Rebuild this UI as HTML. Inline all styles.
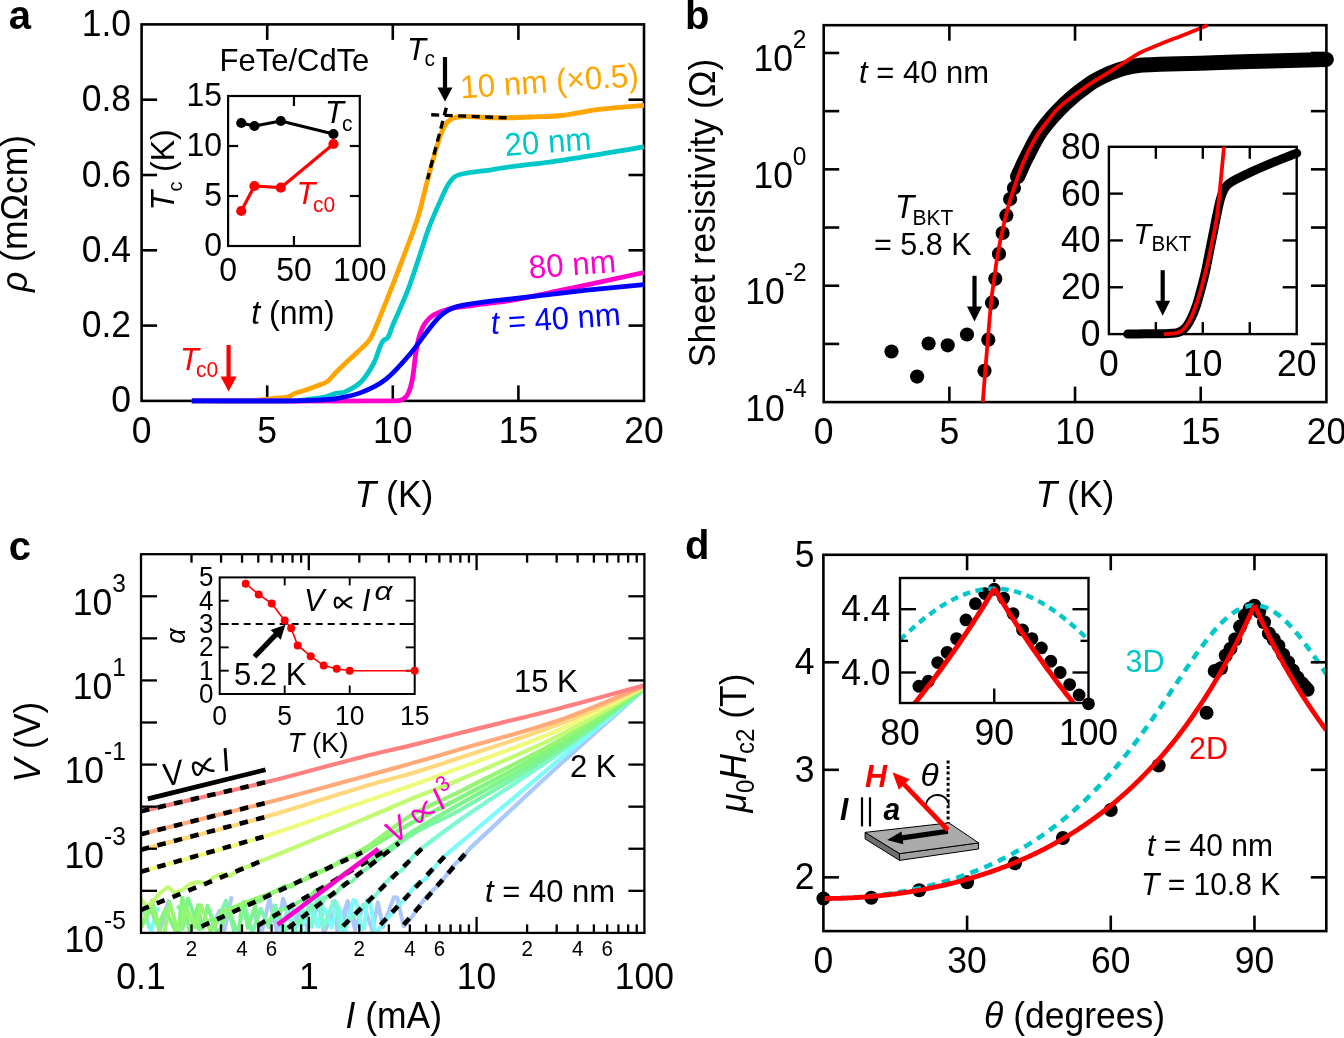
<!DOCTYPE html>
<html><head><meta charset="utf-8"><style>
html,body{margin:0;padding:0;background:#fff;width:1344px;height:1038px;overflow:hidden}
svg{display:block;font-family:"Liberation Sans",sans-serif}
</style></head><body>
<div style="will-change:transform;width:1344px;height:1038px">
<svg width="1344" height="1038" viewBox="0 0 1344 1038">
<rect width="1344" height="1038" fill="#fff"/>
<text x="0" y="0" font-size="40" fill="#000" style="font-weight:bold;"  transform="translate(8.7,29) scale(1.0,1.0377)">a</text>
<rect x="141.6" y="24.4" width="502.4" height="376.5" fill="none" stroke="#000" stroke-width="2.6"/>
<line x1="267.2" y1="400.9" x2="267.2" y2="385.4" stroke="#000" stroke-width="2.6" />
<line x1="267.2" y1="24.4" x2="267.2" y2="39.9" stroke="#000" stroke-width="2.6" />
<line x1="392.8" y1="400.9" x2="392.8" y2="385.4" stroke="#000" stroke-width="2.6" />
<line x1="392.8" y1="24.4" x2="392.8" y2="39.9" stroke="#000" stroke-width="2.6" />
<line x1="518.4" y1="400.9" x2="518.4" y2="385.4" stroke="#000" stroke-width="2.6" />
<line x1="518.4" y1="24.4" x2="518.4" y2="39.9" stroke="#000" stroke-width="2.6" />
<line x1="141.6" y1="325.6" x2="157.1" y2="325.6" stroke="#000" stroke-width="2.6" />
<line x1="644" y1="325.6" x2="628.5" y2="325.6" stroke="#000" stroke-width="2.6" />
<line x1="141.6" y1="250.3" x2="157.1" y2="250.3" stroke="#000" stroke-width="2.6" />
<line x1="644" y1="250.3" x2="628.5" y2="250.3" stroke="#000" stroke-width="2.6" />
<line x1="141.6" y1="175" x2="157.1" y2="175" stroke="#000" stroke-width="2.6" />
<line x1="644" y1="175" x2="628.5" y2="175" stroke="#000" stroke-width="2.6" />
<line x1="141.6" y1="99.7" x2="157.1" y2="99.7" stroke="#000" stroke-width="2.6" />
<line x1="644" y1="99.7" x2="628.5" y2="99.7" stroke="#000" stroke-width="2.6" />
<path d="M191.84,400.9 C208.59,400.9 225.33,401.09 242.08,400.9 C247.11,400.84 252.14,400.52 257.15,400.15 C262.19,399.77 267.2,399.19 272.22,398.64 C277.59,398.06 283.05,397.98 288.3,396.76 C290.69,396.2 292.55,394.28 294.83,393.37 C297.6,392.26 300.55,391.69 303.37,390.73 C308.34,389.05 313.31,387.37 318.19,385.46 C321.35,384.23 324.75,383.32 327.49,381.32 C330.72,378.97 332.94,375.48 335.78,372.66 C340.4,368.07 345.11,363.58 349.84,359.11 C354.82,354.41 360.11,350.04 364.92,345.18 C367.07,343 369.28,340.74 370.69,338.02 C374.68,330.38 377.69,322.27 380.99,314.3 C384.98,304.7 388.77,295.01 392.55,285.31 C396.89,274.17 401.19,263.01 405.36,251.81 C409.65,240.3 414.28,228.9 417.92,217.17 C421.57,205.4 424.02,193.3 427.21,181.4 C430.22,170.21 433.15,158.99 436.51,147.89 C438.43,141.53 440.37,135.15 443.04,129.07 C444.25,126.3 445.85,123.59 448.06,121.54 C450.16,119.59 452.82,118.07 455.6,117.4 C459.68,116.4 463.97,116.6 468.16,116.64 C476.54,116.73 484.9,117.54 493.28,117.77 C498.47,117.92 503.66,117.88 508.85,117.77 C516.23,117.62 523.59,117.33 530.96,117.02 C541.18,116.58 551.44,116.64 561.61,115.51 C574.08,114.13 586.32,111.03 598.78,109.49 C613.81,107.64 628.93,106.73 644,105.35" fill="none" stroke="#FFA500" stroke-width="4.8" stroke-linejoin="round" />
<path d="M191.84,400.9 C225.33,400.9 258.83,401.34 292.32,400.9 C297.37,400.83 302.38,400.02 307.39,399.39 C313.52,398.63 319.69,398.04 325.73,396.76 C329.19,396.02 332.35,394.24 335.78,393.37 C338.82,392.6 342.22,393.18 345.07,391.86 C350.83,389.21 356.66,386.18 361.15,381.7 C366.41,376.44 370.18,369.8 373.71,363.25 C376.58,357.92 377.88,351.88 380.24,346.31 C381.07,344.34 381.85,342.27 383.25,340.66 C384.44,339.29 386.82,339.19 387.78,337.65 C390.04,333.97 390.86,329.58 392.55,325.6 C397.14,314.77 402.32,304.18 406.62,293.22 C410.79,282.58 414.23,271.66 417.92,260.84 C421.85,249.32 425.19,237.6 429.48,226.2 C432.98,216.87 437.2,207.82 441.28,198.72 C443.4,194.01 445.34,189.17 448.06,184.79 C449.98,181.71 452.04,178.45 455.1,176.51 C458.42,174.39 462.55,173.91 466.4,173.12 C471.12,172.15 475.95,171.91 480.72,171.23 C490.94,169.78 501.13,168.1 511.37,166.72 C528.1,164.46 544.91,162.83 561.61,160.32 C589.13,156.18 616.54,151.28 644,146.76" fill="none" stroke="#00C8C8" stroke-width="4.8" stroke-linejoin="round" />
<path d="M191.84,400.9 C259.66,400.9 327.49,401.38 395.31,400.9 C397.87,400.88 400.59,400.61 402.85,399.39 C404.98,398.24 406.8,396.3 407.87,394.12 C409.97,389.88 411.24,385.22 412.14,380.57 C413.93,371.37 414.38,361.95 415.91,352.71 C416.89,346.76 417.86,340.76 419.68,335.01 C421.06,330.66 422.8,326.3 425.46,322.59 C427.75,319.38 430.84,316.66 434.25,314.68 C438.75,312.07 443.75,310.24 448.82,309.03 C457.06,307.08 465.55,306.43 473.94,305.27 C486.4,303.54 498.97,302.5 511.37,300.37 C528.21,297.48 544.89,293.72 561.61,290.21 C589.1,284.43 616.54,278.41 644,272.51" fill="none" stroke="#FF00CC" stroke-width="4.8" stroke-linejoin="round" />
<path d="M191.84,400.9 C225.33,400.9 258.83,401.1 292.32,400.9 C300.7,400.85 309.07,400.58 317.44,400.15 C323.56,399.83 329.73,399.69 335.78,398.64 C344.26,397.17 352.87,395.74 360.9,392.62 C369.76,389.16 378.57,384.98 386.02,379.06 C395.52,371.51 403.18,361.87 411.14,352.71 C416.6,346.41 421,339.26 426.21,332.75 C431.05,326.71 435.56,320.28 441.28,315.06 C444.89,311.77 449.34,309.42 453.84,307.53 C457.81,305.86 462.14,305.16 466.4,304.52 C481.34,302.27 496.37,300.65 511.37,298.87 C536.47,295.88 561.59,292.92 586.73,290.21 C605.8,288.15 624.91,286.44 644,284.56" fill="none" stroke="#0000FF" stroke-width="4.8" stroke-linejoin="round" />
<line x1="431.2" y1="114.8" x2="507.7" y2="117.8" stroke="#000" stroke-width="3.4" stroke-dasharray="8,5.5"/>
<line x1="446.3" y1="107.8" x2="427.5" y2="179.2" stroke="#000" stroke-width="3.4" stroke-dasharray="8,5.5"/>
<text x="0" y="0" font-size="35.5" fill="#000" text-anchor="middle" style=""  transform="translate(141.6,443.4) scale(1.0,1.0377)">0</text>
<text x="0" y="0" font-size="35.5" fill="#000" text-anchor="middle" style=""  transform="translate(267.2,443.4) scale(1.0,1.0377)">5</text>
<text x="0" y="0" font-size="35.5" fill="#000" text-anchor="middle" style=""  transform="translate(392.8,443.4) scale(1.0,1.0377)">10</text>
<text x="0" y="0" font-size="35.5" fill="#000" text-anchor="middle" style=""  transform="translate(518.4,443.4) scale(1.0,1.0377)">15</text>
<text x="0" y="0" font-size="35.5" fill="#000" text-anchor="middle" style=""  transform="translate(644,443.4) scale(1.0,1.0377)">20</text>
<text x="0" y="0" font-size="35.5" fill="#000" text-anchor="end" style=""  transform="translate(131,412.4) scale(1.0,1.0377)">0</text>
<text x="0" y="0" font-size="35.5" fill="#000" text-anchor="end" style=""  transform="translate(131,337.1) scale(1.0,1.0377)">0.2</text>
<text x="0" y="0" font-size="35.5" fill="#000" text-anchor="end" style=""  transform="translate(131,261.8) scale(1.0,1.0377)">0.4</text>
<text x="0" y="0" font-size="35.5" fill="#000" text-anchor="end" style=""  transform="translate(131,186.5) scale(1.0,1.0377)">0.6</text>
<text x="0" y="0" font-size="35.5" fill="#000" text-anchor="end" style=""  transform="translate(131,111.2) scale(1.0,1.0377)">0.8</text>
<text x="0" y="0" font-size="35.5" fill="#000" text-anchor="end" style=""  transform="translate(131,35.9) scale(1.0,1.0377)">1.0</text>
<text x="0" y="0" font-size="35.5" fill="#000" text-anchor="middle" style=""  transform="translate(394,506.8) scale(1.0,1.0377)"><tspan style="font-style:italic">T</tspan> (K)</text>
<text x="0" y="0" font-size="35.5" fill="#000" text-anchor="middle" style="" transform="translate(26.5,213.5) rotate(-90) scale(1.0,1.0377)"><tspan style="font-style:italic">ρ</tspan> (mΩcm)</text>
<text x="0" y="0" font-size="31.4" fill="#FFA500" style="" transform="translate(461,98.5) rotate(-4) scale(1.0,1.0377)">10 nm (×0.5)</text>
<text x="0" y="0" font-size="31.2" fill="#00C8C8" style="" transform="translate(505.5,156) rotate(-4.2) scale(1.0,1.0377)">20 nm</text>
<text x="0" y="0" font-size="31.4" fill="#FF00CC" style="" transform="translate(529.5,278.5) rotate(-4.2) scale(1.0,1.0377)">80 nm</text>
<text x="0" y="0" font-size="31" fill="#0000FF" style="" transform="translate(491.5,334) rotate(-4) scale(1.0,1.0377)"><tspan style="font-style:italic">t</tspan> = 40 nm</text>
<line x1="445" y1="57" x2="445" y2="89.5" stroke="#000" stroke-width="4.2" />
<polygon points="437.5,87.5 452.5,87.5 445,101.5" fill="#000"/>
<text x="0" y="0" font-size="31" fill="#000" style="font-style:italic;"  transform="translate(407,60) scale(1.0,1.0377)">T</text>
<text x="0" y="0" font-size="21" fill="#000" style=""  transform="translate(424.5,66) scale(1.0,1.0377)">c</text>
<line x1="228.6" y1="345" x2="228.6" y2="378.6" stroke="#F00" stroke-width="4.2" />
<polygon points="220.6,376.6 236.6,376.6 228.6,391.6" fill="#F00"/>
<text x="0" y="0" font-size="31" fill="#F00" style="font-style:italic;"  transform="translate(180,369.8) scale(1.0,1.0377)">T</text>
<text x="0" y="0" font-size="21" fill="#F00" style=""  transform="translate(196,377.3) scale(1.0,1.0377)">c0</text>
<text x="0" y="0" font-size="31" fill="#000" style=""  transform="translate(219.5,71) scale(1.0,1.0377)">FeTe/CdTe</text>
<rect x="228.1" y="96" width="131.7" height="150" fill="none" stroke="#000" stroke-width="2.2"/>
<line x1="293.95" y1="246" x2="293.95" y2="236" stroke="#000" stroke-width="2.2" />
<line x1="293.95" y1="96" x2="293.95" y2="106" stroke="#000" stroke-width="2.2" />
<line x1="228.1" y1="196" x2="238.1" y2="196" stroke="#000" stroke-width="2.2" />
<line x1="359.8" y1="196" x2="349.8" y2="196" stroke="#000" stroke-width="2.2" />
<line x1="228.1" y1="146" x2="238.1" y2="146" stroke="#000" stroke-width="2.2" />
<line x1="359.8" y1="146" x2="349.8" y2="146" stroke="#000" stroke-width="2.2" />
<polyline points="241.27,123 254.44,126 280.78,121 333.46,134" fill="none" stroke="#000" stroke-width="3.0" stroke-linejoin="round" />
<polyline points="241.27,211 254.44,186 280.78,187.7 333.46,144" fill="none" stroke="#F00" stroke-width="3.2" stroke-linejoin="round" />
<circle cx="241.27" cy="123" r="5.1" fill="#000"/>
<circle cx="254.44" cy="126" r="5.1" fill="#000"/>
<circle cx="280.78" cy="121" r="5.1" fill="#000"/>
<circle cx="333.46" cy="134" r="5.1" fill="#000"/>
<circle cx="241.27" cy="211" r="5.1" fill="#F00"/>
<circle cx="254.44" cy="186" r="5.1" fill="#F00"/>
<circle cx="280.78" cy="187.7" r="5.1" fill="#F00"/>
<circle cx="333.46" cy="144" r="5.1" fill="#F00"/>
<text x="0" y="0" font-size="32" fill="#000" text-anchor="end" style=""  transform="translate(222,256) scale(1.0,1.0377)">0</text>
<text x="0" y="0" font-size="32" fill="#000" text-anchor="end" style=""  transform="translate(222,206) scale(1.0,1.0377)">5</text>
<text x="0" y="0" font-size="32" fill="#000" text-anchor="end" style=""  transform="translate(222,156) scale(1.0,1.0377)">10</text>
<text x="0" y="0" font-size="32" fill="#000" text-anchor="end" style=""  transform="translate(222,106) scale(1.0,1.0377)">15</text>
<text x="0" y="0" font-size="32" fill="#000" text-anchor="middle" style=""  transform="translate(228.1,280.5) scale(1.0,1.0377)">0</text>
<text x="0" y="0" font-size="32" fill="#000" text-anchor="middle" style=""  transform="translate(293.95,280.5) scale(1.0,1.0377)">50</text>
<text x="0" y="0" font-size="32" fill="#000" text-anchor="middle" style=""  transform="translate(359.8,280.5) scale(1.0,1.0377)">100</text>
<text x="0" y="0" font-size="32" fill="#000" text-anchor="middle" style=""  transform="translate(293,323.5) scale(1.0,1.0377)"><tspan style="font-style:italic">t</tspan> (nm)</text>
<text x="0" y="0" font-size="32" fill="#000" style="" transform="translate(174.4,210.6) rotate(-90) scale(1.0,1.0377)"><tspan style="font-style:italic">T</tspan></text>
<text x="0" y="0" font-size="20" fill="#000" style="" transform="translate(181.5,191.5) rotate(-90) scale(1.0,1.0377)">c</text>
<text x="0" y="0" font-size="32" fill="#000" style="" transform="translate(174.4,172) rotate(-90) scale(1.0,1.0377)">(K)</text>
<text x="0" y="0" font-size="31" fill="#000" style="font-style:italic;"  transform="translate(325,123.1) scale(1.0,1.0377)">T</text>
<text x="0" y="0" font-size="21" fill="#000" style=""  transform="translate(342,130.5) scale(1.0,1.0377)">c</text>
<text x="0" y="0" font-size="31" fill="#F00" style="font-style:italic;"  transform="translate(296.5,204) scale(1.0,1.0377)">T</text>
<text x="0" y="0" font-size="21" fill="#F00" style=""  transform="translate(313,212) scale(1.0,1.0377)">c0</text>
<text x="0" y="0" font-size="40" fill="#000" style="font-weight:bold;"  transform="translate(685,28.8) scale(1.0,1.0377)">b</text>
<rect x="823.7" y="25.2" width="502.7" height="376.9" fill="none" stroke="#000" stroke-width="2.6"/>
<path d="M1017.6,176.6 C1020.5,170.37 1023.15,164.01 1026.3,157.9 C1031.02,148.77 1035.23,139.26 1041.2,130.9 C1048.13,121.19 1056.23,112.29 1064.8,104 C1072.55,96.5 1081.09,89.77 1090,83.7 C1096.22,79.46 1103.13,76.28 1110,73.2 C1114.83,71.03 1119.89,69.36 1125,68 C1129.91,66.69 1134.94,65.73 1140,65.2 C1146.64,64.5 1153.33,64.52 1160,64.3 C1173.33,63.86 1186.67,63.61 1200,63.2 C1216.67,62.68 1233.33,62 1250,61.5 C1275.46,60.73 1300.93,60.1 1326.4,59.4" fill="none" stroke="#000" stroke-width="15" stroke-linejoin="round" stroke-linecap="round"/>
<circle cx="1019.38" cy="172.63" r="7.1" fill="#000"/>
<circle cx="1021.48" cy="167.92" r="7.1" fill="#000"/>
<circle cx="1023.49" cy="163.6" r="7.1" fill="#000"/>
<circle cx="1025.71" cy="159.04" r="7.1" fill="#000"/>
<circle cx="1028.12" cy="154.3" r="7.1" fill="#000"/>
<circle cx="1030.04" cy="150.41" r="7.1" fill="#000"/>
<circle cx="1032.1" cy="146.31" r="7.1" fill="#000"/>
<circle cx="1034.32" cy="142.09" r="7.1" fill="#000"/>
<circle cx="1036.72" cy="137.84" r="7.1" fill="#000"/>
<circle cx="1039.33" cy="133.63" r="7.1" fill="#000"/>
<circle cx="1042.18" cy="129.54" r="7.1" fill="#000"/>
<circle cx="1045.34" cy="125.41" r="7.1" fill="#000"/>
<circle cx="1048.75" cy="121.21" r="7.1" fill="#000"/>
<circle cx="1052.36" cy="117.03" r="7.1" fill="#000"/>
<circle cx="1056.08" cy="112.92" r="7.1" fill="#000"/>
<circle cx="1059.84" cy="108.96" r="7.1" fill="#000"/>
<circle cx="1063.57" cy="105.2" r="7.1" fill="#000"/>
<circle cx="1067.28" cy="101.66" r="7.1" fill="#000"/>
<circle cx="1071.11" cy="98.23" r="7.1" fill="#000"/>
<circle cx="1075.01" cy="94.93" r="7.1" fill="#000"/>
<circle cx="1078.92" cy="91.8" r="7.1" fill="#000"/>
<circle cx="891.5" cy="351.5" r="7.1" fill="#000"/>
<circle cx="917.1" cy="376.6" r="7.1" fill="#000"/>
<circle cx="928.6" cy="343.5" r="7.1" fill="#000"/>
<circle cx="947.7" cy="345.3" r="7.1" fill="#000"/>
<circle cx="967" cy="334.5" r="7.1" fill="#000"/>
<circle cx="984.5" cy="370.8" r="7.1" fill="#000"/>
<circle cx="988.3" cy="339.7" r="7.1" fill="#000"/>
<circle cx="992" cy="302.7" r="7.1" fill="#000"/>
<circle cx="995.3" cy="278.8" r="7.1" fill="#000"/>
<circle cx="999" cy="253.8" r="7.1" fill="#000"/>
<circle cx="1002.6" cy="233" r="7.1" fill="#000"/>
<circle cx="1006.4" cy="215.4" r="7.1" fill="#000"/>
<circle cx="1010.1" cy="199.1" r="7.1" fill="#000"/>
<circle cx="1013.9" cy="187.9" r="7.1" fill="#000"/>
<circle cx="1017.6" cy="176.6" r="7.1" fill="#000"/>
<path d="M982.8,402.1 C983.7,390.73 984.58,379.37 985.5,368 C986.25,358.77 987.01,349.53 987.8,340.3 C988.94,326.93 989.93,313.55 991.3,300.2 C991.99,293.44 993.06,286.73 994,280 C995.16,271.66 996.16,263.3 997.6,255 C999.17,245.96 1000.95,236.95 1003,228 C1005.12,218.74 1007.31,209.48 1010.1,200.4 C1013.88,188.13 1017.88,175.9 1022.7,164 C1026.26,155.23 1030.44,146.68 1035.2,138.5 C1038.8,132.3 1043.28,126.65 1047.7,121 C1051.66,115.94 1055.52,110.7 1060.3,106.4 C1068.11,99.38 1076.69,93.22 1085.3,87.2 C1093.4,81.54 1102.04,76.68 1110.4,71.4 C1114.81,68.61 1119.19,65.79 1123.6,63 C1129.06,59.55 1134.26,55.66 1140,52.7 C1146.44,49.38 1153.29,46.93 1160,44.2 C1168.29,40.83 1176.68,37.71 1185,34.4 C1192.58,31.38 1200.13,28.27 1207.7,25.2" fill="none" stroke="#F00" stroke-width="3.8" stroke-linejoin="round" />
<line x1="949.38" y1="402.1" x2="949.38" y2="386.6" stroke="#000" stroke-width="2.6" />
<line x1="949.38" y1="25.2" x2="949.38" y2="40.7" stroke="#000" stroke-width="2.6" />
<line x1="1075.05" y1="402.1" x2="1075.05" y2="386.6" stroke="#000" stroke-width="2.6" />
<line x1="1075.05" y1="25.2" x2="1075.05" y2="40.7" stroke="#000" stroke-width="2.6" />
<line x1="1200.73" y1="402.1" x2="1200.73" y2="386.6" stroke="#000" stroke-width="2.6" />
<line x1="1200.73" y1="25.2" x2="1200.73" y2="40.7" stroke="#000" stroke-width="2.6" />
<line x1="823.7" y1="343.91" x2="839.2" y2="343.91" stroke="#000" stroke-width="2.6" />
<line x1="1326.4" y1="343.91" x2="1310.9" y2="343.91" stroke="#000" stroke-width="2.6" />
<line x1="823.7" y1="285.72" x2="839.2" y2="285.72" stroke="#000" stroke-width="2.6" />
<line x1="1326.4" y1="285.72" x2="1310.9" y2="285.72" stroke="#000" stroke-width="2.6" />
<line x1="823.7" y1="227.53" x2="839.2" y2="227.53" stroke="#000" stroke-width="2.6" />
<line x1="1326.4" y1="227.53" x2="1310.9" y2="227.53" stroke="#000" stroke-width="2.6" />
<line x1="823.7" y1="169.34" x2="839.2" y2="169.34" stroke="#000" stroke-width="2.6" />
<line x1="1326.4" y1="169.34" x2="1310.9" y2="169.34" stroke="#000" stroke-width="2.6" />
<line x1="823.7" y1="111.15" x2="839.2" y2="111.15" stroke="#000" stroke-width="2.6" />
<line x1="1326.4" y1="111.15" x2="1310.9" y2="111.15" stroke="#000" stroke-width="2.6" />
<line x1="823.7" y1="52.96" x2="839.2" y2="52.96" stroke="#000" stroke-width="2.6" />
<line x1="1326.4" y1="52.96" x2="1310.9" y2="52.96" stroke="#000" stroke-width="2.6" />
<text x="0" y="0" font-size="35.5" fill="#000" text-anchor="middle" style=""  transform="translate(823.7,443.9) scale(1.0,1.0377)">0</text>
<text x="0" y="0" font-size="35.5" fill="#000" text-anchor="middle" style=""  transform="translate(949.38,443.9) scale(1.0,1.0377)">5</text>
<text x="0" y="0" font-size="35.5" fill="#000" text-anchor="middle" style=""  transform="translate(1075.05,443.9) scale(1.0,1.0377)">10</text>
<text x="0" y="0" font-size="35.5" fill="#000" text-anchor="middle" style=""  transform="translate(1200.73,443.9) scale(1.0,1.0377)">15</text>
<text x="0" y="0" font-size="35.5" fill="#000" text-anchor="middle" style=""  transform="translate(1326.4,443.9) scale(1.0,1.0377)">20</text>
<text x="0" y="0" font-size="35.5" fill="#000" text-anchor="end" style=""  transform="translate(806.5,420.5) scale(1.0,1.0377)">10<tspan font-size="24.5" dy="-22.3">-4</tspan></text>
<text x="0" y="0" font-size="35.5" fill="#000" text-anchor="end" style=""  transform="translate(806.5,304.12) scale(1.0,1.0377)">10<tspan font-size="24.5" dy="-22.3">-2</tspan></text>
<text x="0" y="0" font-size="35.5" fill="#000" text-anchor="end" style=""  transform="translate(806.5,187.74) scale(1.0,1.0377)">10<tspan font-size="24.5" dy="-22.3">0</tspan></text>
<text x="0" y="0" font-size="35.5" fill="#000" text-anchor="end" style=""  transform="translate(806.5,71.36) scale(1.0,1.0377)">10<tspan font-size="24.5" dy="-22.3">2</tspan></text>
<text x="0" y="0" font-size="35.5" fill="#000" text-anchor="middle" style=""  transform="translate(1075,506.8) scale(1.0,1.0377)"><tspan style="font-style:italic">T</tspan> (K)</text>
<text x="0" y="0" font-size="35.5" fill="#000" text-anchor="middle" style="" transform="translate(714.6,213) rotate(-90) scale(1.0,1.0377)">Sheet resistivity (Ω)</text>
<text x="0" y="0" font-size="31" fill="#000" style=""  transform="translate(859,82.9) scale(1.0,1.0377)"><tspan style="font-style:italic">t</tspan> = 40 nm</text>
<text x="0" y="0" font-size="31.5" fill="#000" style="font-style:italic;"  transform="translate(895,218.3) scale(1.0,1.0377)">T</text>
<text x="0" y="0" font-size="21" fill="#000" style=""  transform="translate(912.5,225.1) scale(1.0,1.0377)">BKT</text>
<text x="0" y="0" font-size="30.5" fill="#000" style=""  transform="translate(874,254.9) scale(1.0,1.0377)">= 5.8 K</text>
<line x1="974.5" y1="275.8" x2="974.5" y2="308.5" stroke="#000" stroke-width="4.2" />
<polygon points="967,306.5 982,306.5 974.5,321.5" fill="#000"/>
<rect x="1108.9" y="146.8" width="187.8" height="187.3" fill="none" stroke="#000" stroke-width="2.4"/>
<line x1="1155.85" y1="334.1" x2="1155.85" y2="322.1" stroke="#000" stroke-width="2.4" />
<line x1="1155.85" y1="146.8" x2="1155.85" y2="158.8" stroke="#000" stroke-width="2.4" />
<line x1="1202.8" y1="334.1" x2="1202.8" y2="322.1" stroke="#000" stroke-width="2.4" />
<line x1="1202.8" y1="146.8" x2="1202.8" y2="158.8" stroke="#000" stroke-width="2.4" />
<line x1="1249.75" y1="334.1" x2="1249.75" y2="322.1" stroke="#000" stroke-width="2.4" />
<line x1="1249.75" y1="146.8" x2="1249.75" y2="158.8" stroke="#000" stroke-width="2.4" />
<line x1="1108.9" y1="287.28" x2="1122.9" y2="287.28" stroke="#000" stroke-width="2.4" />
<line x1="1296.7" y1="287.28" x2="1282.7" y2="287.28" stroke="#000" stroke-width="2.4" />
<line x1="1108.9" y1="240.45" x2="1122.9" y2="240.45" stroke="#000" stroke-width="2.4" />
<line x1="1296.7" y1="240.45" x2="1282.7" y2="240.45" stroke="#000" stroke-width="2.4" />
<line x1="1108.9" y1="193.63" x2="1122.9" y2="193.63" stroke="#000" stroke-width="2.4" />
<line x1="1296.7" y1="193.63" x2="1282.7" y2="193.63" stroke="#000" stroke-width="2.4" />
<path d="M1127.68,334.1 C1133.94,334.02 1140.2,333.94 1146.46,333.87 C1152.72,333.79 1158.98,333.83 1165.24,333.63 C1169,333.51 1172.8,333.6 1176.51,332.93 C1178.51,332.57 1180.46,331.73 1182.14,330.59 C1183.97,329.35 1185.53,327.69 1186.84,325.91 C1188.69,323.36 1190.19,320.56 1191.53,317.71 C1193.33,313.91 1194.89,309.99 1196.23,306 C1198.03,300.62 1199.45,295.11 1200.92,289.62 C1202.58,283.4 1204.2,277.16 1205.62,270.89 C1207.02,264.67 1208.12,258.4 1209.37,252.16 C1210.62,245.91 1211.88,239.67 1213.13,233.43 C1214.38,227.18 1215.55,220.92 1216.88,214.7 C1218.06,209.22 1219.07,203.69 1220.64,198.31 C1221.58,195.08 1222.81,191.91 1224.4,188.94 C1225.34,187.18 1226.61,185.54 1228.15,184.26 C1230.42,182.37 1233.07,180.98 1235.66,179.58 C1240.28,177.08 1244.99,174.76 1249.75,172.55 C1255.95,169.68 1262.22,166.97 1268.53,164.36 C1277.87,160.49 1287.31,156.87 1296.7,153.12" fill="none" stroke="#000" stroke-width="9" stroke-linejoin="round" stroke-linecap="round"/>
<path d="M1164.02,334.1 C1167.56,333.87 1171.12,333.9 1174.63,333.4 C1176.57,333.12 1178.51,332.63 1180.26,331.76 C1181.71,331.04 1182.94,329.91 1184.02,328.72 C1185.78,326.77 1187.44,324.69 1188.72,322.39 C1190.59,319.03 1191.98,315.43 1193.41,311.86 C1195.11,307.62 1196.71,303.33 1198.11,298.98 C1199.84,293.57 1201.33,288.08 1202.8,282.59 C1204.46,276.37 1206.06,270.14 1207.5,263.86 C1209.19,256.48 1210.7,249.05 1212.19,241.62 C1213.83,233.44 1215.85,225.32 1216.88,217.04 C1219.8,193.69 1221.64,170.21 1224.02,146.8" fill="none" stroke="#F00" stroke-width="3.8" stroke-linejoin="round" />
<text x="0" y="0" font-size="35.5" fill="#000" text-anchor="end" style=""  transform="translate(1100.5,346.1) scale(1.0,1.0377)">0</text>
<text x="0" y="0" font-size="35.5" fill="#000" text-anchor="end" style=""  transform="translate(1100.5,299.28) scale(1.0,1.0377)">20</text>
<text x="0" y="0" font-size="35.5" fill="#000" text-anchor="end" style=""  transform="translate(1100.5,252.45) scale(1.0,1.0377)">40</text>
<text x="0" y="0" font-size="35.5" fill="#000" text-anchor="end" style=""  transform="translate(1100.5,205.63) scale(1.0,1.0377)">60</text>
<text x="0" y="0" font-size="35.5" fill="#000" text-anchor="end" style=""  transform="translate(1100.5,158.8) scale(1.0,1.0377)">80</text>
<text x="0" y="0" font-size="35.5" fill="#000" text-anchor="middle" style=""  transform="translate(1108.9,375.8) scale(1.0,1.0377)">0</text>
<text x="0" y="0" font-size="35.5" fill="#000" text-anchor="middle" style=""  transform="translate(1202.8,375.8) scale(1.0,1.0377)">10</text>
<text x="0" y="0" font-size="35.5" fill="#000" text-anchor="middle" style=""  transform="translate(1296.7,375.8) scale(1.0,1.0377)">20</text>
<text x="0" y="0" font-size="29" fill="#000" style="font-style:italic;"  transform="translate(1133.5,244) scale(1.0,1.0377)">T</text>
<text x="0" y="0" font-size="20.5" fill="#000" style=""  transform="translate(1151.5,251) scale(1.0,1.0377)">BKT</text>
<line x1="1162.7" y1="270.2" x2="1162.7" y2="302.8" stroke="#000" stroke-width="4.2" />
<polygon points="1155.2,300.8 1170.2,300.8 1162.7,315.8" fill="#000"/>
<text x="0" y="0" font-size="40" fill="#000" style="font-weight:bold;"  transform="translate(8.7,560) scale(1.0,1.0377)">c</text>
<g clip-path="url(#clipc)">
<polyline points="151.91,904.01 159.56,931.48 169.03,899.28" fill="none" stroke="#AAC8FA" stroke-width="4.0" stroke-linejoin="round" />
<polyline points="142.93,906.83 151.25,932.02 156.72,908.95 159.56,909.93" fill="none" stroke="#7DFAFA" stroke-width="4.0" stroke-linejoin="round" />
<polyline points="143.61,910.9 149.46,928.06" fill="none" stroke="#7DFAD2" stroke-width="4.0" stroke-linejoin="round" />
<polyline points="208.49,927.65 212.18,926 219.41,910.85 224.47,929.96 231.62,896.29" fill="none" stroke="#AAC8FA" stroke-width="4.0" stroke-linejoin="round" />
<polyline points="271.23,909.01 280.91,930.13 291.01,904.75 297.72,927.91" fill="none" stroke="#7DFAFA" stroke-width="4.0" stroke-linejoin="round" />
<polyline points="303.72,932.51 306.5,933.16 309,896.1 318.61,926.71 323.64,897.31 326.31,898.93" fill="none" stroke="#7DFAD2" stroke-width="4.0" stroke-linejoin="round" />
<polyline points="331.35,901.96 335.02,901.1 337.24,931.3 347.73,901.06 355.55,931.17" fill="none" stroke="#AAC8FA" stroke-width="4.0" stroke-linejoin="round" />
<polyline points="253.26,910.79 259.8,929.85 262.1,930.45 269.44,899.02 276.71,930.91 283.12,898.79 293.99,929.66 300.04,908.06 307.23,927.85 309.52,927.02 315.8,909.99 319.66,908.66 323.81,932.71 334.28,911.26 338.01,909.27 342.03,929.28 347.55,902.54 356.56,926.06 363.45,904.64 372.48,930.54 377.82,902.36 382.95,926.97 393.84,897.35 397.22,897.39 403.7,926.34 410.55,918.99 418.53,907.03 427,896.1 433.77,889.52 440.69,882.76 448.35,872.46 455.46,863.42 464.33,856.57 468.7,849.5" fill="none" stroke="#AAC8FA" stroke-width="4.0" stroke-linejoin="round" />
<path d="M468.7,849.5 C499.13,821.17 529.3,792.54 560,764.5 C587.87,739.04 616.27,714.17 644.4,689" fill="none" stroke="#AAC8FA" stroke-width="4.2" stroke-linejoin="round" />
<polyline points="301.3,926.08 311.23,911.98 313.63,910.2 317.39,926.22 324.58,909.05 331.68,927.5 336.86,906.37 339.16,907.93 344.48,934.51 353.47,900 355.96,900.94 361.54,928.68 364.24,928.25 366.96,899.99 369.79,899.97 375.35,933.65 377.54,932.86 380.5,926.87 388.05,918.27 395.04,909.13 402.14,901.87 408.44,894.54 415.7,884.92 424.96,879.42 431.57,870.99 439.68,861.32 447,853.9" fill="none" stroke="#7DFAFA" stroke-width="4.0" stroke-linejoin="round" />
<path d="M447,853.9 C455.33,846.93 463.69,839.99 472,833 C501.35,808.32 530.57,783.48 560,758.9 C588.04,735.48 616.27,712.3 644.4,689" fill="none" stroke="#7DFAFA" stroke-width="4.2" stroke-linejoin="round" />
<polyline points="281.9,929.64 287.01,911.8 296.83,933.23 300.47,933.84 302.71,909.78 312.04,926.75 317.07,897.02 319.17,897.38 323.39,927.77 333.01,902.35 336.49,902.55 340.16,928.76 343,925 350.84,918.63 357.24,912.11 367.07,902.76 375.14,895.96 382.95,885.72 392.3,875.98 401.86,870.18 410.05,860.29 416.32,852.42 423.9,846.6" fill="none" stroke="#7DFAD2" stroke-width="4.0" stroke-linejoin="round" />
<path d="M423.9,846.6 C435.93,837.73 447.7,828.49 460,820 C493.08,797.16 527.23,775.88 560,752.6 C588.72,732.2 616.27,710.2 644.4,689" fill="none" stroke="#7DFAD2" stroke-width="4.2" stroke-linejoin="round" />
<polyline points="215.17,926.17 226.03,900.64 234.85,933.96 238.32,934.02 243.47,902.05 252.4,932.53 260.68,909.01 269.07,927.25 275,905.38 284.58,931.31 288.1,926.25 297.36,922.9 304.9,914.1 311.69,907.93 318.55,903.27 327.96,896 334.72,894.51 344.39,882.97 351.68,881.81 359.24,874.21 368.01,867.59 374.23,863.2 383.49,854.73 390.87,850.45 399,843.1" fill="none" stroke="#7DF5AA" stroke-width="4.0" stroke-linejoin="round" />
<path d="M399,843.1 C406,838.73 412.75,833.93 420,830 C433.1,822.89 447.06,817.4 460,810 C493.75,790.71 527.54,771.39 560,750 C589.07,730.85 616.27,709 644.4,688.5" fill="none" stroke="#7DF5AA" stroke-width="4.2" stroke-linejoin="round" />
<polyline points="176.99,906.2 179.94,908.08 182.5,928.86 188.01,898.45 198.89,928.87 202.84,928.19 207.51,905.72 218.01,934.66 227.96,908.7 235.54,928.04 239.4,928.85 241.17,910.57 244.56,910.41 247.79,927.88 255.26,905.99 258,924.13 266.33,922.88 274.96,915.36 282.19,909.39 292.19,906.61 299.19,901.7 308.02,898.08 315.14,890.93 321.89,888.35 331.58,883.39 338.14,877.73 344.45,872.98 352.42,868.26 359.5,864.55 367.19,863.1 374.13,857.82 381.73,851.75 387,849.7" fill="none" stroke="#7DF58C" stroke-width="4.0" stroke-linejoin="round" />
<path d="M387,849.7 C394.67,844.2 402,838.21 410,833.2 C426.36,822.96 443.24,813.57 460,804 C493.24,785.03 527.57,767.91 560,747.6 C589.11,729.37 616.27,708.2 644.4,688.5" fill="none" stroke="#7DF58C" stroke-width="4.2" stroke-linejoin="round" />
<polyline points="141.15,927.3 150.18,908.69 158.17,926.17 165.41,909.64 174.94,929.91 178.64,931.19 182.2,897.53 190.17,932.95 198.21,905.2 201.5,927.55 211.1,919.65 220.87,919.17 227.1,916.22 236.32,908.87 246.2,905.19 254.01,903.04 262.77,899.46 269.88,894.87 276.43,890.8 284.39,886.13 291.79,886.42 298.5,881.41 304.65,880.09 311.05,874.36 320.03,871.52 328.25,868.57 336.23,863.96 342.85,859.49 349.66,856.86 356.95,856.74 362.1,852.4" fill="none" stroke="#82F57D" stroke-width="4.0" stroke-linejoin="round" />
<path d="M362.1,852.4 C378.07,842.87 393.76,832.86 410,823.8 C426.41,814.65 443.42,806.63 460,797.8 C493.42,780 527.46,763.27 560,743.9 C588.99,726.64 616.27,706.63 644.4,688" fill="none" stroke="#82F57D" stroke-width="4.2" stroke-linejoin="round" />
<polyline points="141.17,926.17 152.03,900.64 160.85,933.96 164.32,934.02 169.47,902.05 178.4,932.53 186.68,909.01 195.07,927.25 201,905.38 210.58,931.31 222,912" fill="none" stroke="#96F573" stroke-width="4.0" stroke-linejoin="round" />
<path d="M222,912 C231.67,908.13 241.28,904.14 251,900.4 C261.19,896.48 271.56,893.05 281.7,889 C292.77,884.58 303.77,879.99 314.6,875 C324.05,870.65 333.35,865.95 342.5,861 C351.83,855.95 361.18,850.88 370,845 C383.7,835.86 395.84,824.42 410,816 C425.95,806.52 443.44,799.88 460,791.5 C493.44,774.58 527.32,758.44 560,740.1 C588.83,723.92 616.27,705.37 644.4,688" fill="none" stroke="#96F573" stroke-width="4.2" stroke-linejoin="round" />
<polyline points="141,899 146,906 152,903 160,893 168,887 175,893 182,890 190,884 198,882 206,884 214,877 222,874 230,876 240,869 250,866 258,862 266.7,858.9" fill="none" stroke="#C3FA73" stroke-width="4.0" stroke-linejoin="round" />
<path d="M266.7,858.9 C299.47,845.47 332.29,832.16 365,818.6 C380.05,812.36 394.93,805.7 410,799.5 C426.6,792.67 443.51,786.58 460,779.5 C493.51,765.11 527.36,751.38 560,735.1 C588.9,720.68 616.27,703.37 644.4,687.5" fill="none" stroke="#C3FA73" stroke-width="4.2" stroke-linejoin="round" />
<path d="M141,871.7 C182.9,859.73 225.11,848.81 266.7,835.8 C299.81,825.44 332.23,812.99 365,801.6 C380,796.39 395.04,791.32 410,786 C426.71,780.05 443.4,774.05 460,767.8 C493.4,755.22 527.31,743.83 560,729.5 C588.85,716.86 616.27,701.17 644.4,687" fill="none" stroke="#F0FA7D" stroke-width="4.2" stroke-linejoin="round" />
<path d="M141,849.7 C182.9,838.67 225.01,828.42 266.7,816.6 C299.7,807.25 332.14,796.02 365,786.2 C379.91,781.75 395.09,778.26 410,773.8 C426.77,768.79 443.4,763.33 460,757.8 C493.4,746.67 527.16,736.5 560,723.8 C588.69,712.71 616.27,698.93 644.4,686.5" fill="none" stroke="#FFD77D" stroke-width="4.2" stroke-linejoin="round" />
<path d="M141,834.2 C182.9,823.7 224.88,813.53 266.7,802.7 C299.55,794.19 332.25,785.09 365,776.2 C380.02,772.12 395.03,768.04 410,763.8 C426.7,759.07 443.34,754.16 460,749.3 C493.34,739.56 527.15,731.28 560,720 C588.69,710.15 616.27,697.33 644.4,686" fill="none" stroke="#FFAA78" stroke-width="4.2" stroke-linejoin="round" />
<path d="M141,811.3 C182.9,801.53 224.92,792.28 266.7,782 C299.6,773.91 332.17,764.54 365,756.2 C379.94,752.41 395.03,749.26 410,745.6 C426.7,741.52 443.32,737.16 460,733 C493.32,724.69 526.75,716.8 560,708.2 C588.22,700.9 616.27,692.93 644.4,685.3" fill="none" stroke="#FF8080" stroke-width="4.2" stroke-linejoin="round" />
</g>
<line x1="141" y1="811.3" x2="266.7" y2="782" stroke="#000" stroke-width="4.6" stroke-dasharray="8.5,8.5"/>
<line x1="141" y1="834.2" x2="266.7" y2="802.7" stroke="#000" stroke-width="4.6" stroke-dasharray="8.5,8.5"/>
<line x1="141" y1="849.7" x2="266.7" y2="816.6" stroke="#000" stroke-width="4.6" stroke-dasharray="8.5,8.5"/>
<line x1="141" y1="871.7" x2="266.7" y2="835.8" stroke="#000" stroke-width="4.6" stroke-dasharray="8.5,8.5"/>
<line x1="141" y1="909.8" x2="266.7" y2="858.9" stroke="#000" stroke-width="4.6" stroke-dasharray="8.5,8.5"/>
<line x1="201.5" y1="926.5" x2="362.1" y2="852.4" stroke="#000" stroke-width="4.6" stroke-dasharray="8.5,8.5"/>
<line x1="258" y1="925.4" x2="387" y2="849.7" stroke="#000" stroke-width="4.6" stroke-dasharray="8.5,8.5"/>
<line x1="288.1" y1="928.1" x2="399" y2="843.1" stroke="#000" stroke-width="4.6" stroke-dasharray="8.5,8.5"/>
<line x1="343" y1="926.1" x2="423.9" y2="846.6" stroke="#000" stroke-width="4.6" stroke-dasharray="8.5,8.5"/>
<line x1="380.5" y1="924.7" x2="447" y2="853.9" stroke="#000" stroke-width="4.6" stroke-dasharray="8.5,8.5"/>
<line x1="403.7" y1="924.7" x2="468.7" y2="849.5" stroke="#000" stroke-width="4.6" stroke-dasharray="8.5,8.5"/>
<line x1="147.8" y1="798.9" x2="265.5" y2="769.7" stroke="#000" stroke-width="4.7" />
<line x1="277.7" y1="924.6" x2="378.3" y2="848.9" stroke="#FF00CC" stroke-width="4.5" />
<g transform="translate(163,787.4) rotate(-14.5)">
<text x="0" y="0" font-size="31.5" fill="#000" style="font-style:italic;"  transform="translate(2,0) scale(1.0,1.0377)">V</text>
<path d="M54,-16 C49.6,-16 46.4,-11.95 44,-9.7 C41.2,-6.7 39.6,-3.4 37.2,-3.4 C35,-3.4 34,-6.4 34,-9.7 C34,-13 35,-16 37.2,-16 C39.6,-16 41.6,-12.7 44,-9.7 C46.4,-7 49.6,-3.4 54,-3.4" fill="none" stroke="#000" stroke-width="2.4"/>
<text x="0" y="0" font-size="31.5" fill="#000" style="font-style:italic;"  transform="translate(63,0) scale(1.0,1.0377)">I</text>
</g>
<g transform="translate(393,846) rotate(-36)">
<text x="0" y="0" font-size="31" fill="#FF00CC" style="font-style:italic;"  transform="translate(2,0) scale(1.0,1.0377)">V</text>
<path d="M54,-16 C49.6,-16 46.4,-11.95 44,-9.7 C41.2,-6.7 39.6,-3.4 37.2,-3.4 C35,-3.4 34,-6.4 34,-9.7 C34,-13 35,-16 37.2,-16 C39.6,-16 41.6,-12.7 44,-9.7 C46.4,-7 49.6,-3.4 54,-3.4" fill="none" stroke="#FF00CC" stroke-width="2.4"/>
<text x="0" y="0" font-size="31" fill="#FF00CC" style="font-style:italic;"  transform="translate(60,0) scale(1.0,1.0377)">I</text>
<text x="0" y="0" font-size="21" fill="#FF00CC" style=""  transform="translate(71,-14) scale(1.0,1.0377)">3</text>
</g>
<rect x="141" y="554.2" width="503.4" height="378.7" fill="none" stroke="#000" stroke-width="2.3"/>
<line x1="141" y1="890.82" x2="157" y2="890.82" stroke="#000" stroke-width="2.3" />
<line x1="644.4" y1="890.82" x2="628.4" y2="890.82" stroke="#000" stroke-width="2.3" />
<line x1="141" y1="848.74" x2="157" y2="848.74" stroke="#000" stroke-width="2.3" />
<line x1="644.4" y1="848.74" x2="628.4" y2="848.74" stroke="#000" stroke-width="2.3" />
<line x1="141" y1="806.67" x2="157" y2="806.67" stroke="#000" stroke-width="2.3" />
<line x1="644.4" y1="806.67" x2="628.4" y2="806.67" stroke="#000" stroke-width="2.3" />
<line x1="141" y1="764.59" x2="157" y2="764.59" stroke="#000" stroke-width="2.3" />
<line x1="644.4" y1="764.59" x2="628.4" y2="764.59" stroke="#000" stroke-width="2.3" />
<line x1="141" y1="722.51" x2="157" y2="722.51" stroke="#000" stroke-width="2.3" />
<line x1="644.4" y1="722.51" x2="628.4" y2="722.51" stroke="#000" stroke-width="2.3" />
<line x1="141" y1="680.43" x2="157" y2="680.43" stroke="#000" stroke-width="2.3" />
<line x1="644.4" y1="680.43" x2="628.4" y2="680.43" stroke="#000" stroke-width="2.3" />
<line x1="141" y1="638.36" x2="157" y2="638.36" stroke="#000" stroke-width="2.3" />
<line x1="644.4" y1="638.36" x2="628.4" y2="638.36" stroke="#000" stroke-width="2.3" />
<line x1="141" y1="596.28" x2="157" y2="596.28" stroke="#000" stroke-width="2.3" />
<line x1="644.4" y1="596.28" x2="628.4" y2="596.28" stroke="#000" stroke-width="2.3" />
<line x1="191.51" y1="932.9" x2="191.51" y2="924.4" stroke="#000" stroke-width="2.3" />
<line x1="191.51" y1="554.2" x2="191.51" y2="562.7" stroke="#000" stroke-width="2.3" />
<line x1="221.06" y1="932.9" x2="221.06" y2="924.4" stroke="#000" stroke-width="2.3" />
<line x1="221.06" y1="554.2" x2="221.06" y2="562.7" stroke="#000" stroke-width="2.3" />
<line x1="242.03" y1="932.9" x2="242.03" y2="924.4" stroke="#000" stroke-width="2.3" />
<line x1="242.03" y1="554.2" x2="242.03" y2="562.7" stroke="#000" stroke-width="2.3" />
<line x1="258.29" y1="932.9" x2="258.29" y2="924.4" stroke="#000" stroke-width="2.3" />
<line x1="258.29" y1="554.2" x2="258.29" y2="562.7" stroke="#000" stroke-width="2.3" />
<line x1="271.57" y1="932.9" x2="271.57" y2="924.4" stroke="#000" stroke-width="2.3" />
<line x1="271.57" y1="554.2" x2="271.57" y2="562.7" stroke="#000" stroke-width="2.3" />
<line x1="282.81" y1="932.9" x2="282.81" y2="924.4" stroke="#000" stroke-width="2.3" />
<line x1="282.81" y1="554.2" x2="282.81" y2="562.7" stroke="#000" stroke-width="2.3" />
<line x1="292.54" y1="932.9" x2="292.54" y2="924.4" stroke="#000" stroke-width="2.3" />
<line x1="292.54" y1="554.2" x2="292.54" y2="562.7" stroke="#000" stroke-width="2.3" />
<line x1="301.12" y1="932.9" x2="301.12" y2="924.4" stroke="#000" stroke-width="2.3" />
<line x1="301.12" y1="554.2" x2="301.12" y2="562.7" stroke="#000" stroke-width="2.3" />
<line x1="359.31" y1="932.9" x2="359.31" y2="924.4" stroke="#000" stroke-width="2.3" />
<line x1="359.31" y1="554.2" x2="359.31" y2="562.7" stroke="#000" stroke-width="2.3" />
<line x1="388.86" y1="932.9" x2="388.86" y2="924.4" stroke="#000" stroke-width="2.3" />
<line x1="388.86" y1="554.2" x2="388.86" y2="562.7" stroke="#000" stroke-width="2.3" />
<line x1="409.83" y1="932.9" x2="409.83" y2="924.4" stroke="#000" stroke-width="2.3" />
<line x1="409.83" y1="554.2" x2="409.83" y2="562.7" stroke="#000" stroke-width="2.3" />
<line x1="426.09" y1="932.9" x2="426.09" y2="924.4" stroke="#000" stroke-width="2.3" />
<line x1="426.09" y1="554.2" x2="426.09" y2="562.7" stroke="#000" stroke-width="2.3" />
<line x1="439.37" y1="932.9" x2="439.37" y2="924.4" stroke="#000" stroke-width="2.3" />
<line x1="439.37" y1="554.2" x2="439.37" y2="562.7" stroke="#000" stroke-width="2.3" />
<line x1="450.61" y1="932.9" x2="450.61" y2="924.4" stroke="#000" stroke-width="2.3" />
<line x1="450.61" y1="554.2" x2="450.61" y2="562.7" stroke="#000" stroke-width="2.3" />
<line x1="460.34" y1="932.9" x2="460.34" y2="924.4" stroke="#000" stroke-width="2.3" />
<line x1="460.34" y1="554.2" x2="460.34" y2="562.7" stroke="#000" stroke-width="2.3" />
<line x1="468.92" y1="932.9" x2="468.92" y2="924.4" stroke="#000" stroke-width="2.3" />
<line x1="468.92" y1="554.2" x2="468.92" y2="562.7" stroke="#000" stroke-width="2.3" />
<line x1="308.8" y1="932.9" x2="308.8" y2="916.9" stroke="#000" stroke-width="2.3" />
<line x1="308.8" y1="554.2" x2="308.8" y2="570.2" stroke="#000" stroke-width="2.3" />
<line x1="527.11" y1="932.9" x2="527.11" y2="924.4" stroke="#000" stroke-width="2.3" />
<line x1="527.11" y1="554.2" x2="527.11" y2="562.7" stroke="#000" stroke-width="2.3" />
<line x1="556.66" y1="932.9" x2="556.66" y2="924.4" stroke="#000" stroke-width="2.3" />
<line x1="556.66" y1="554.2" x2="556.66" y2="562.7" stroke="#000" stroke-width="2.3" />
<line x1="577.63" y1="932.9" x2="577.63" y2="924.4" stroke="#000" stroke-width="2.3" />
<line x1="577.63" y1="554.2" x2="577.63" y2="562.7" stroke="#000" stroke-width="2.3" />
<line x1="593.89" y1="932.9" x2="593.89" y2="924.4" stroke="#000" stroke-width="2.3" />
<line x1="593.89" y1="554.2" x2="593.89" y2="562.7" stroke="#000" stroke-width="2.3" />
<line x1="607.17" y1="932.9" x2="607.17" y2="924.4" stroke="#000" stroke-width="2.3" />
<line x1="607.17" y1="554.2" x2="607.17" y2="562.7" stroke="#000" stroke-width="2.3" />
<line x1="618.41" y1="932.9" x2="618.41" y2="924.4" stroke="#000" stroke-width="2.3" />
<line x1="618.41" y1="554.2" x2="618.41" y2="562.7" stroke="#000" stroke-width="2.3" />
<line x1="628.14" y1="932.9" x2="628.14" y2="924.4" stroke="#000" stroke-width="2.3" />
<line x1="628.14" y1="554.2" x2="628.14" y2="562.7" stroke="#000" stroke-width="2.3" />
<line x1="636.72" y1="932.9" x2="636.72" y2="924.4" stroke="#000" stroke-width="2.3" />
<line x1="636.72" y1="554.2" x2="636.72" y2="562.7" stroke="#000" stroke-width="2.3" />
<line x1="476.6" y1="932.9" x2="476.6" y2="916.9" stroke="#000" stroke-width="2.3" />
<line x1="476.6" y1="554.2" x2="476.6" y2="570.2" stroke="#000" stroke-width="2.3" />
<text x="0" y="0" font-size="35.5" fill="#000" text-anchor="middle" style=""  transform="translate(141,989.3) scale(1.0,1.0377)">0.1</text>
<text x="0" y="0" font-size="35.5" fill="#000" text-anchor="middle" style=""  transform="translate(308.8,989.3) scale(1.0,1.0377)">1</text>
<text x="0" y="0" font-size="35.5" fill="#000" text-anchor="middle" style=""  transform="translate(476.6,989.3) scale(1.0,1.0377)">10</text>
<text x="0" y="0" font-size="35.5" fill="#000" text-anchor="middle" style=""  transform="translate(644.4,989.3) scale(1.0,1.0377)">100</text>
<text x="0" y="0" font-size="20.5" fill="#000" text-anchor="middle" style=""  transform="translate(191.51,955.8) scale(1.0,1.0377)">2</text>
<text x="0" y="0" font-size="20.5" fill="#000" text-anchor="middle" style=""  transform="translate(242.03,955.8) scale(1.0,1.0377)">4</text>
<text x="0" y="0" font-size="20.5" fill="#000" text-anchor="middle" style=""  transform="translate(271.57,955.8) scale(1.0,1.0377)">6</text>
<text x="0" y="0" font-size="20.5" fill="#000" text-anchor="middle" style=""  transform="translate(359.31,955.8) scale(1.0,1.0377)">2</text>
<text x="0" y="0" font-size="20.5" fill="#000" text-anchor="middle" style=""  transform="translate(409.83,955.8) scale(1.0,1.0377)">4</text>
<text x="0" y="0" font-size="20.5" fill="#000" text-anchor="middle" style=""  transform="translate(439.37,955.8) scale(1.0,1.0377)">6</text>
<text x="0" y="0" font-size="20.5" fill="#000" text-anchor="middle" style=""  transform="translate(527.11,955.8) scale(1.0,1.0377)">2</text>
<text x="0" y="0" font-size="20.5" fill="#000" text-anchor="middle" style=""  transform="translate(577.63,955.8) scale(1.0,1.0377)">4</text>
<text x="0" y="0" font-size="20.5" fill="#000" text-anchor="middle" style=""  transform="translate(607.17,955.8) scale(1.0,1.0377)">6</text>
<text x="0" y="0" font-size="35.5" fill="#000" text-anchor="end" style=""  transform="translate(125.8,951.8) scale(1.0,1.0377)">10<tspan font-size="24.5" dy="-22.3">-5</tspan></text>
<text x="0" y="0" font-size="35.5" fill="#000" text-anchor="end" style=""  transform="translate(125.8,867.64) scale(1.0,1.0377)">10<tspan font-size="24.5" dy="-22.3">-3</tspan></text>
<text x="0" y="0" font-size="35.5" fill="#000" text-anchor="end" style=""  transform="translate(125.8,783.49) scale(1.0,1.0377)">10<tspan font-size="24.5" dy="-22.3">-1</tspan></text>
<text x="0" y="0" font-size="35.5" fill="#000" text-anchor="end" style=""  transform="translate(125.8,699.33) scale(1.0,1.0377)">10<tspan font-size="24.5" dy="-22.3">1</tspan></text>
<text x="0" y="0" font-size="35.5" fill="#000" text-anchor="end" style=""  transform="translate(125.8,615.18) scale(1.0,1.0377)">10<tspan font-size="24.5" dy="-22.3">3</tspan></text>
<text x="0" y="0" font-size="35.5" fill="#000" text-anchor="middle" style=""  transform="translate(393.8,1027.5) scale(1.0,1.0377)"><tspan style="font-style:italic">I</tspan> (mA)</text>
<text x="0" y="0" font-size="35.5" fill="#000" text-anchor="middle" style="" transform="translate(40,742) rotate(-90) scale(1.0,1.0377)"><tspan style="font-style:italic">V</tspan> (V)</text>
<text x="0" y="0" font-size="31" fill="#000" style=""  transform="translate(514,691.9) scale(1.0,1.0377)">15 K</text>
<text x="0" y="0" font-size="31" fill="#000" style=""  transform="translate(570,777) scale(1.0,1.0377)">2 K</text>
<text x="0" y="0" font-size="31" fill="#000" style=""  transform="translate(485,901.6) scale(1.0,1.0377)"><tspan style="font-style:italic">t</tspan> = 40 nm</text>
<rect x="219.7" y="577.4" width="195.0" height="116.6" fill="#fff" stroke="none"/>
<line x1="219.7" y1="624.04" x2="414.7" y2="624.04" stroke="#000" stroke-width="2.0" stroke-dasharray="7,5"/>
<rect x="219.7" y="577.4" width="195" height="116.6" fill="none" stroke="#000" stroke-width="2.0"/>
<line x1="284.7" y1="694" x2="284.7" y2="685.5" stroke="#000" stroke-width="1.9" />
<line x1="284.7" y1="577.4" x2="284.7" y2="585.4" stroke="#000" stroke-width="1.9" />
<line x1="349.7" y1="694" x2="349.7" y2="685.5" stroke="#000" stroke-width="1.9" />
<line x1="349.7" y1="577.4" x2="349.7" y2="585.4" stroke="#000" stroke-width="1.9" />
<line x1="219.7" y1="670.68" x2="228.7" y2="670.68" stroke="#000" stroke-width="1.9" />
<line x1="414.7" y1="670.68" x2="405.7" y2="670.68" stroke="#000" stroke-width="1.9" />
<line x1="219.7" y1="647.36" x2="228.7" y2="647.36" stroke="#000" stroke-width="1.9" />
<line x1="414.7" y1="647.36" x2="405.7" y2="647.36" stroke="#000" stroke-width="1.9" />
<line x1="219.7" y1="624.04" x2="228.7" y2="624.04" stroke="#000" stroke-width="1.9" />
<line x1="414.7" y1="624.04" x2="405.7" y2="624.04" stroke="#000" stroke-width="1.9" />
<line x1="219.7" y1="600.72" x2="228.7" y2="600.72" stroke="#000" stroke-width="1.9" />
<line x1="414.7" y1="600.72" x2="405.7" y2="600.72" stroke="#000" stroke-width="1.9" />
<polyline points="245.7,583.7 258.7,594.42 271.7,603.52 284.7,620.54 291.2,628.24 297.7,645.49 310.7,656.22 323.7,665.55 336.7,668.81 349.7,670.68 414.7,670.68" fill="none" stroke="#F00" stroke-width="1.6" stroke-linejoin="round" />
<circle cx="245.7" cy="583.7" r="4" fill="#F00"/>
<circle cx="258.7" cy="594.42" r="4" fill="#F00"/>
<circle cx="271.7" cy="603.52" r="4" fill="#F00"/>
<circle cx="284.7" cy="620.54" r="4" fill="#F00"/>
<circle cx="291.2" cy="628.24" r="4" fill="#F00"/>
<circle cx="297.7" cy="645.49" r="4" fill="#F00"/>
<circle cx="310.7" cy="656.22" r="4" fill="#F00"/>
<circle cx="323.7" cy="665.55" r="4" fill="#F00"/>
<circle cx="336.7" cy="668.81" r="4" fill="#F00"/>
<circle cx="349.7" cy="670.68" r="4" fill="#F00"/>
<circle cx="414.7" cy="670.68" r="4" fill="#F00"/>
<text x="0" y="0" font-size="26" fill="#000" text-anchor="end" style=""  transform="translate(213.5,703) scale(1.0,1.0377)">0</text>
<text x="0" y="0" font-size="26" fill="#000" text-anchor="end" style=""  transform="translate(213.5,679.68) scale(1.0,1.0377)">1</text>
<text x="0" y="0" font-size="26" fill="#000" text-anchor="end" style=""  transform="translate(213.5,656.36) scale(1.0,1.0377)">2</text>
<text x="0" y="0" font-size="26" fill="#000" text-anchor="end" style=""  transform="translate(213.5,633.04) scale(1.0,1.0377)">3</text>
<text x="0" y="0" font-size="26" fill="#000" text-anchor="end" style=""  transform="translate(213.5,609.72) scale(1.0,1.0377)">4</text>
<text x="0" y="0" font-size="26" fill="#000" text-anchor="end" style=""  transform="translate(213.5,586.4) scale(1.0,1.0377)">5</text>
<text x="0" y="0" font-size="26.5" fill="#000" text-anchor="middle" style=""  transform="translate(219.7,724.5) scale(1.0,1.0377)">0</text>
<text x="0" y="0" font-size="26.5" fill="#000" text-anchor="middle" style=""  transform="translate(284.7,724.5) scale(1.0,1.0377)">5</text>
<text x="0" y="0" font-size="26.5" fill="#000" text-anchor="middle" style=""  transform="translate(349.7,724.5) scale(1.0,1.0377)">10</text>
<text x="0" y="0" font-size="26.5" fill="#000" text-anchor="middle" style=""  transform="translate(414.7,724.5) scale(1.0,1.0377)">15</text>
<text x="0" y="0" font-size="27.5" fill="#000" text-anchor="middle" style=""  transform="translate(318,751.9) scale(1.0,1.0377)"><tspan style="font-style:italic">T</tspan> (K)</text>
<text x="0" y="0" font-size="27" fill="#000" style="font-style:italic;" transform="translate(185,636) rotate(-90) scale(1.0,1.0377)" text-anchor="middle">α</text>
<line x1="254.5" y1="656.7" x2="277.05" y2="633.42" stroke="#000" stroke-width="5.2" />
<polygon points="280.69,639.73 270.63,629.99 285.4,624.8" fill="#000"/>
<text x="0" y="0" font-size="31" fill="#000" style=""  transform="translate(234,684.5) scale(1.0,1.0377)">5.2 K</text>
<text x="0" y="0" font-size="30.5" fill="#000" style="font-style:italic;"  transform="translate(304,610.7) scale(1.0,1.0377)">V</text>
<path d="M352.25,597.56 C348.4,597.56 345.6,600.8 343.5,602.6 C341.05,605 339.65,607.64 337.55,607.64 C335.62,607.64 334.75,605.24 334.75,602.6 C334.75,599.96 335.62,597.56 337.55,597.56 C339.65,597.56 341.4,600.2 343.5,602.6 C345.6,604.76 348.4,607.64 352.25,607.64" fill="none" stroke="#000" stroke-width="2.2"/>
<text x="0" y="0" font-size="30.5" fill="#000" style="font-style:italic;"  transform="translate(362,610.7) scale(1.0,1.0377)">I</text>
<text x="0" y="0" font-size="25" fill="#000" style="font-style:italic;"  transform="translate(374.5,599.5) scale(1.25,1.0377)">α</text>
<text x="0" y="0" font-size="40" fill="#000" style="font-weight:bold;"  transform="translate(685,558.6) scale(1.0,1.0377)">d</text>
<defs><clipPath id="clipd"><rect x="823.4" y="554.8" width="502.9" height="376.3"/></clipPath><clipPath id="clipc"><rect x="141" y="554.2" width="503.4" height="378.7"/></clipPath><clipPath id="clipdi"><rect x="900" y="578" width="188.5" height="125"/></clipPath></defs>
<circle cx="823.4" cy="898.52" r="7" fill="#000"/>
<circle cx="871.3" cy="897.77" r="7" fill="#000"/>
<circle cx="919.19" cy="890.24" r="7" fill="#000"/>
<circle cx="967.09" cy="882.18" r="7" fill="#000"/>
<circle cx="1014.98" cy="863.37" r="7" fill="#000"/>
<circle cx="1062.88" cy="837.99" r="7" fill="#000"/>
<circle cx="1110.77" cy="809.93" r="7" fill="#000"/>
<circle cx="1158.67" cy="765.53" r="7" fill="#000"/>
<circle cx="1206.56" cy="712.85" r="7" fill="#000"/>
<circle cx="1214.7" cy="670.92" r="7" fill="#000"/>
<circle cx="1216.14" cy="671.67" r="7" fill="#000"/>
<circle cx="1220.93" cy="668.23" r="7" fill="#000"/>
<circle cx="1225.72" cy="655.54" r="7" fill="#000"/>
<circle cx="1230.51" cy="648.66" r="7" fill="#000"/>
<circle cx="1235.3" cy="639.31" r="7" fill="#000"/>
<circle cx="1240.09" cy="626.62" r="7" fill="#000"/>
<circle cx="1244.88" cy="615.55" r="7" fill="#000"/>
<circle cx="1249.67" cy="608.66" r="7" fill="#000"/>
<circle cx="1254.46" cy="605.76" r="7" fill="#000"/>
<circle cx="1259.25" cy="611.78" r="7" fill="#000"/>
<circle cx="1264.04" cy="622.32" r="7" fill="#000"/>
<circle cx="1268.83" cy="633.39" r="7" fill="#000"/>
<circle cx="1273.62" cy="639.31" r="7" fill="#000"/>
<circle cx="1278.4" cy="645.65" r="7" fill="#000"/>
<circle cx="1283.19" cy="654.68" r="7" fill="#000"/>
<circle cx="1287.98" cy="662.31" r="7" fill="#000"/>
<circle cx="1292.77" cy="670.49" r="7" fill="#000"/>
<circle cx="1297.56" cy="677.58" r="7" fill="#000"/>
<circle cx="1302.35" cy="683.6" r="7" fill="#000"/>
<circle cx="1305.23" cy="687.04" r="7" fill="#000"/>
<circle cx="1307.62" cy="689.73" r="7" fill="#000"/>
<g clip-path="url(#clipd)">
<polyline points="823.4,898.52 825.79,898.52 828.19,898.5 830.58,898.47 832.98,898.42 835.37,898.37 837.77,898.3 840.16,898.22 842.56,898.13 844.95,898.02 847.35,897.9 849.74,897.77 852.14,897.63 854.53,897.47 856.93,897.3 859.32,897.12 861.72,896.92 864.11,896.72 866.51,896.5 868.9,896.26 871.3,896.02 873.69,895.76 876.08,895.48 878.48,895.2 880.87,894.9 883.27,894.59 885.66,894.26 888.06,893.92 890.45,893.57 892.85,893.2 895.24,892.82 897.64,892.42 900.03,892.01 902.43,891.59 904.82,891.15 907.22,890.7 909.61,890.23 912.01,889.75 914.4,889.25 916.8,888.74 919.19,888.21 921.59,887.67 923.98,887.11 926.37,886.54 928.77,885.95 931.16,885.35 933.56,884.72 935.95,884.09 938.35,883.43 940.74,882.76 943.14,882.07 945.53,881.37 947.93,880.65 950.32,879.91 952.72,879.15 955.11,878.38 957.51,877.58 959.9,876.77 962.3,875.94 964.69,875.09 967.09,874.22 969.48,873.33 971.88,872.42 974.27,871.5 976.66,870.55 979.06,869.58 981.45,868.59 983.85,867.58 986.24,866.54 988.64,865.49 991.03,864.41 993.43,863.31 995.82,862.19 998.22,861.05 1000.61,859.88 1003.01,858.69 1005.4,857.47 1007.8,856.23 1010.19,854.96 1012.59,853.67 1014.98,852.35 1017.38,851.01 1019.77,849.64 1022.17,848.24 1024.56,846.82 1026.95,845.36 1029.35,843.88 1031.74,842.37 1034.14,840.83 1036.53,839.26 1038.93,837.66 1041.32,836.03 1043.72,834.37 1046.11,832.68 1048.51,830.95 1050.9,829.19 1053.3,827.4 1055.69,825.58 1058.09,823.72 1060.48,821.82 1062.88,819.9 1065.27,817.93 1067.67,815.93 1070.06,813.89 1072.46,811.82 1074.85,809.7 1077.24,807.55 1079.64,805.36 1082.03,803.13 1084.43,800.87 1086.82,798.56 1089.22,796.21 1091.61,793.82 1094.01,791.38 1096.4,788.91 1098.8,786.39 1101.19,783.84 1103.59,781.24 1105.98,778.59 1108.38,775.9 1110.77,773.17 1113.17,770.4 1115.56,767.58 1117.96,764.72 1120.35,761.82 1122.75,758.87 1125.14,755.88 1127.53,752.84 1129.93,749.77 1132.32,746.65 1134.72,743.49 1137.11,740.29 1139.51,737.06 1141.9,733.78 1144.3,730.46 1146.69,727.12 1149.09,723.73 1151.48,720.31 1153.88,716.87 1156.27,713.39 1158.67,709.89 1161.06,706.36 1163.46,702.81 1165.85,699.25 1168.25,695.67 1170.64,692.08 1173.04,688.48 1175.43,684.88 1177.82,681.28 1180.22,677.69 1182.61,674.1 1185.01,670.54 1187.4,666.99 1189.8,663.48 1192.19,659.99 1194.59,656.55 1196.98,653.16 1199.38,649.82 1201.77,646.54 1204.17,643.34 1206.56,640.2 1208.96,637.16 1211.35,634.2 1213.75,631.35 1216.14,628.61 1218.54,625.98 1220.93,623.48 1223.33,621.11 1225.72,618.88 1228.11,616.8 1230.51,614.87 1232.9,613.11 1235.3,611.51 1237.69,610.08 1240.09,608.84 1242.48,607.77 1244.88,606.9 1247.27,606.22 1249.67,605.73 1252.06,605.43 1254.46,605.33 1256.85,605.43 1259.25,605.73 1261.64,606.22 1264.04,606.9 1266.43,607.77 1268.83,608.84 1271.22,610.08 1273.62,611.51 1276.01,613.11 1278.4,614.87 1280.8,616.8 1283.19,618.88 1285.59,621.11 1287.98,623.48 1290.38,625.98 1292.77,628.61 1295.17,631.35 1297.56,634.2 1299.96,637.16 1302.35,640.2 1304.75,643.34 1307.14,646.54 1309.54,649.82 1311.93,653.16 1314.33,656.55 1316.72,659.99 1319.12,663.48 1321.51,666.99 1323.91,670.54 1326.3,674.1" fill="none" stroke="#00C8C8" stroke-width="4.6" stroke-linejoin="round" stroke-dasharray="8.5,6.5"/>
<polyline points="823.4,898.52 824.6,898.52 825.79,898.52 826.99,898.51 828.19,898.5 829.39,898.49 830.58,898.48 831.78,898.46 832.98,898.44 834.18,898.42 835.37,898.4 836.57,898.37 837.77,898.34 838.97,898.31 840.16,898.28 841.36,898.24 842.56,898.2 843.76,898.16 844.95,898.11 846.15,898.07 847.35,898.02 848.54,897.97 849.74,897.91 850.94,897.85 852.14,897.8 853.33,897.73 854.53,897.67 855.73,897.6 856.93,897.53 858.12,897.46 859.32,897.38 860.52,897.31 861.72,897.23 862.91,897.14 864.11,897.06 865.31,896.97 866.51,896.88 867.7,896.79 868.9,896.69 870.1,896.59 871.3,896.49 872.49,896.39 873.69,896.28 874.89,896.17 876.08,896.06 877.28,895.95 878.48,895.83 879.68,895.71 880.87,895.59 882.07,895.47 883.27,895.34 884.47,895.21 885.66,895.08 886.86,894.94 888.06,894.8 889.26,894.66 890.45,894.52 891.65,894.37 892.85,894.22 894.05,894.07 895.24,893.92 896.44,893.76 897.64,893.6 898.83,893.44 900.03,893.27 901.23,893.1 902.43,892.93 903.62,892.76 904.82,892.58 906.02,892.4 907.22,892.22 908.41,892.03 909.61,891.85 910.81,891.66 912.01,891.46 913.2,891.27 914.4,891.07 915.6,890.86 916.8,890.66 917.99,890.45 919.19,890.24 920.39,890.02 921.59,889.81 922.78,889.59 923.98,889.36 925.18,889.14 926.37,888.91 927.57,888.68 928.77,888.44 929.97,888.21 931.16,887.96 932.36,887.72 933.56,887.47 934.76,887.22 935.95,886.97 937.15,886.71 938.35,886.45 939.55,886.19 940.74,885.92 941.94,885.66 943.14,885.38 944.34,885.11 945.53,884.83 946.73,884.55 947.93,884.26 949.12,883.97 950.32,883.68 951.52,883.39 952.72,883.09 953.91,882.79 955.11,882.48 956.31,882.18 957.51,881.86 958.7,881.55 959.9,881.23 961.1,880.91 962.3,880.58 963.49,880.26 964.69,879.92 965.89,879.59 967.09,879.25 968.28,878.91 969.48,878.56 970.68,878.21 971.88,877.86 973.07,877.5 974.27,877.14 975.47,876.78 976.66,876.41 977.86,876.04 979.06,875.66 980.26,875.29 981.45,874.9 982.65,874.52 983.85,874.13 985.05,873.73 986.24,873.34 987.44,872.93 988.64,872.53 989.84,872.12 991.03,871.71 992.23,871.29 993.43,870.87 994.63,870.45 995.82,870.02 997.02,869.58 998.22,869.15 999.41,868.71 1000.61,868.26 1001.81,867.81 1003.01,867.36 1004.2,866.9 1005.4,866.44 1006.6,865.97 1007.8,865.5 1008.99,865.03 1010.19,864.55 1011.39,864.07 1012.59,863.58 1013.78,863.09 1014.98,862.59 1016.18,862.09 1017.38,861.59 1018.57,861.08 1019.77,860.56 1020.97,860.04 1022.17,859.52 1023.36,858.99 1024.56,858.46 1025.76,857.92 1026.95,857.38 1028.15,856.84 1029.35,856.29 1030.55,855.73 1031.74,855.17 1032.94,854.6 1034.14,854.03 1035.34,853.46 1036.53,852.88 1037.73,852.29 1038.93,851.7 1040.13,851.1 1041.32,850.5 1042.52,849.9 1043.72,849.29 1044.92,848.67 1046.11,848.05 1047.31,847.42 1048.51,846.79 1049.7,846.15 1050.9,845.51 1052.1,844.86 1053.3,844.21 1054.49,843.55 1055.69,842.88 1056.89,842.21 1058.09,841.54 1059.28,840.86 1060.48,840.17 1061.68,839.48 1062.88,838.78 1064.07,838.07 1065.27,837.36 1066.47,836.64 1067.67,835.92 1068.86,835.19 1070.06,834.46 1071.26,833.72 1072.46,832.97 1073.65,832.22 1074.85,831.46 1076.05,830.69 1077.24,829.92 1078.44,829.14 1079.64,828.36 1080.84,827.57 1082.03,826.77 1083.23,825.97 1084.43,825.16 1085.63,824.34 1086.82,823.51 1088.02,822.68 1089.22,821.84 1090.42,821 1091.61,820.15 1092.81,819.29 1094.01,818.42 1095.21,817.55 1096.4,816.67 1097.6,815.78 1098.8,814.89 1099.99,813.99 1101.19,813.08 1102.39,812.16 1103.59,811.24 1104.78,810.31 1105.98,809.37 1107.18,808.42 1108.38,807.46 1109.57,806.5 1110.77,805.53 1111.97,804.55 1113.17,803.57 1114.36,802.57 1115.56,801.57 1116.76,800.56 1117.96,799.54 1119.15,798.51 1120.35,797.48 1121.55,796.43 1122.75,795.38 1123.94,794.32 1125.14,793.25 1126.34,792.17 1127.53,791.08 1128.73,789.99 1129.93,788.88 1131.13,787.76 1132.32,786.64 1133.52,785.51 1134.72,784.37 1135.92,783.21 1137.11,782.05 1138.31,780.88 1139.51,779.7 1140.71,778.51 1141.9,777.31 1143.1,776.1 1144.3,774.89 1145.5,773.66 1146.69,772.42 1147.89,771.17 1149.09,769.91 1150.28,768.64 1151.48,767.36 1152.68,766.07 1153.88,764.76 1155.07,763.45 1156.27,762.13 1157.47,760.79 1158.67,759.45 1159.86,758.09 1161.06,756.72 1162.26,755.35 1163.46,753.96 1164.65,752.55 1165.85,751.14 1167.05,749.72 1168.25,748.28 1169.44,746.83 1170.64,745.37 1171.84,743.9 1173.04,742.41 1174.23,740.91 1175.43,739.4 1176.63,737.88 1177.82,736.35 1179.02,734.8 1180.22,733.24 1181.42,731.66 1182.61,730.08 1183.81,728.48 1185.01,726.86 1186.21,725.24 1187.4,723.59 1188.6,721.94 1189.8,720.27 1191,718.59 1192.19,716.89 1193.39,715.18 1194.59,713.46 1195.79,711.72 1196.98,709.96 1198.18,708.19 1199.38,706.41 1200.58,704.61 1201.77,702.79 1202.97,700.96 1204.17,699.12 1205.36,697.26 1206.56,695.38 1207.76,693.49 1208.96,691.58 1210.15,689.65 1211.35,687.71 1212.55,685.75 1213.75,683.77 1214.94,681.78 1216.14,679.77 1217.34,677.75 1218.54,675.7 1219.73,673.64 1220.93,671.56 1222.13,669.46 1223.33,667.35 1224.52,665.21 1225.72,663.06 1226.92,660.89 1228.11,658.7 1229.31,656.49 1230.51,654.26 1231.71,652.01 1232.9,649.75 1234.1,647.46 1235.3,645.15 1236.5,642.82 1237.69,640.47 1238.89,638.11 1240.09,635.72 1241.29,633.31 1242.48,630.87 1243.68,628.42 1244.88,625.95 1246.08,623.45 1247.27,620.93 1248.47,618.39 1249.67,615.82 1250.87,613.23 1252.06,610.62 1253.26,607.99 1254.46,605.33" fill="none" stroke="#F00" stroke-width="4.8" stroke-linejoin="round" />
<polyline points="1254.46,605.33 1255.65,607.99 1256.85,610.62 1258.05,613.23 1259.25,615.82 1260.44,618.39 1261.64,620.93 1262.84,623.45 1264.04,625.95 1265.23,628.42 1266.43,630.87 1267.63,633.31 1268.83,635.72 1270.02,638.11 1271.22,640.47 1272.42,642.82 1273.62,645.15 1274.81,647.46 1276.01,649.75 1277.21,652.01 1278.4,654.26 1279.6,656.49 1280.8,658.7 1282,660.89 1283.19,663.06 1284.39,665.21 1285.59,667.35 1286.79,669.46 1287.98,671.56 1289.18,673.64 1290.38,675.7 1291.58,677.75 1292.77,679.77 1293.97,681.78 1295.17,683.77 1296.37,685.75 1297.56,687.71 1298.76,689.65 1299.96,691.58 1301.15,693.49 1302.35,695.38 1303.55,697.26 1304.75,699.12 1305.94,700.96 1307.14,702.79 1308.34,704.61 1309.54,706.41 1310.73,708.19 1311.93,709.96 1313.13,711.72 1314.33,713.46 1315.52,715.18 1316.72,716.89 1317.92,718.59 1319.12,720.27 1320.31,721.94 1321.51,723.59 1322.71,725.24 1323.91,726.86 1325.1,728.48 1326.3,730.08" fill="none" stroke="#F00" stroke-width="4.8" stroke-linejoin="round" />
</g>
<rect x="823.4" y="554.8" width="502.9" height="376.3" fill="none" stroke="#000" stroke-width="2.6"/>
<line x1="967.09" y1="931.1" x2="967.09" y2="915.6" stroke="#000" stroke-width="2.6" />
<line x1="967.09" y1="554.8" x2="967.09" y2="570.3" stroke="#000" stroke-width="2.6" />
<line x1="1110.77" y1="931.1" x2="1110.77" y2="915.6" stroke="#000" stroke-width="2.6" />
<line x1="1110.77" y1="554.8" x2="1110.77" y2="570.3" stroke="#000" stroke-width="2.6" />
<line x1="1254.46" y1="931.1" x2="1254.46" y2="915.6" stroke="#000" stroke-width="2.6" />
<line x1="1254.46" y1="554.8" x2="1254.46" y2="570.3" stroke="#000" stroke-width="2.6" />
<line x1="823.4" y1="877.34" x2="838.9" y2="877.34" stroke="#000" stroke-width="2.6" />
<line x1="1326.3" y1="877.34" x2="1310.8" y2="877.34" stroke="#000" stroke-width="2.6" />
<line x1="823.4" y1="769.83" x2="838.9" y2="769.83" stroke="#000" stroke-width="2.6" />
<line x1="1326.3" y1="769.83" x2="1310.8" y2="769.83" stroke="#000" stroke-width="2.6" />
<line x1="823.4" y1="662.31" x2="838.9" y2="662.31" stroke="#000" stroke-width="2.6" />
<line x1="1326.3" y1="662.31" x2="1310.8" y2="662.31" stroke="#000" stroke-width="2.6" />
<text x="0" y="0" font-size="35.5" fill="#000" text-anchor="middle" style=""  transform="translate(823.4,973.3) scale(1.0,1.0377)">0</text>
<text x="0" y="0" font-size="35.5" fill="#000" text-anchor="middle" style=""  transform="translate(967.09,973.3) scale(1.0,1.0377)">30</text>
<text x="0" y="0" font-size="35.5" fill="#000" text-anchor="middle" style=""  transform="translate(1110.77,973.3) scale(1.0,1.0377)">60</text>
<text x="0" y="0" font-size="35.5" fill="#000" text-anchor="middle" style=""  transform="translate(1254.46,973.3) scale(1.0,1.0377)">90</text>
<text x="0" y="0" font-size="35.5" fill="#000" text-anchor="end" style=""  transform="translate(814.5,889.34) scale(1.0,1.0377)">2</text>
<text x="0" y="0" font-size="35.5" fill="#000" text-anchor="end" style=""  transform="translate(814.5,781.83) scale(1.0,1.0377)">3</text>
<text x="0" y="0" font-size="35.5" fill="#000" text-anchor="end" style=""  transform="translate(814.5,674.31) scale(1.0,1.0377)">4</text>
<text x="0" y="0" font-size="35.5" fill="#000" text-anchor="end" style=""  transform="translate(814.5,566.8) scale(1.0,1.0377)">5</text>
<text x="0" y="0" font-size="35.5" fill="#000" text-anchor="middle" style=""  transform="translate(1074.5,1027.7) scale(1.0,1.0377)"><tspan style="font-style:italic">θ</tspan> (degrees)</text>
<text x="0" y="0" font-size="35.5" fill="#000" text-anchor="middle" style="" transform="translate(746.3,743) rotate(-90) scale(1.0,1.0377)"><tspan style="font-style:italic">μ</tspan><tspan font-size="24" dy="7">0</tspan><tspan dy="-7" style="font-style:italic">H</tspan><tspan font-size="24" dy="7">c2</tspan><tspan dy="-7"> (T)</tspan></text>
<text x="0" y="0" font-size="30.5" fill="#00C8C8" style=""  transform="translate(1125.5,671.9) scale(1.0,1.0377)">3D</text>
<text x="0" y="0" font-size="30.5" fill="#F00" style=""  transform="translate(1189,759.3) scale(1.0,1.0377)">2D</text>
<text x="0" y="0" font-size="30" fill="#000" style=""  transform="translate(1147,856.4) scale(1.0,1.0377)"><tspan style="font-style:italic">t</tspan> = 40 nm</text>
<text x="0" y="0" font-size="30" fill="#000" style=""  transform="translate(1141,895.2) scale(1.0,1.0377)"><tspan style="font-style:italic">T</tspan> = 10.8 K</text>
<rect x="900.0" y="578.0" width="188.5" height="125.0" fill="#fff"/>
<circle cx="918.85" cy="686.27" r="6.4" fill="#000"/>
<circle cx="928.27" cy="681.2" r="6.4" fill="#000"/>
<circle cx="937.7" cy="662.53" r="6.4" fill="#000"/>
<circle cx="947.12" cy="652.4" r="6.4" fill="#000"/>
<circle cx="956.55" cy="638.63" r="6.4" fill="#000"/>
<circle cx="965.98" cy="619.96" r="6.4" fill="#000"/>
<circle cx="975.4" cy="603.66" r="6.4" fill="#000"/>
<circle cx="984.83" cy="593.53" r="6.4" fill="#000"/>
<circle cx="994.25" cy="589.26" r="6.4" fill="#000"/>
<circle cx="1003.67" cy="598.12" r="6.4" fill="#000"/>
<circle cx="1013.1" cy="613.63" r="6.4" fill="#000"/>
<circle cx="1022.52" cy="629.93" r="6.4" fill="#000"/>
<circle cx="1031.95" cy="638.63" r="6.4" fill="#000"/>
<circle cx="1041.38" cy="647.97" r="6.4" fill="#000"/>
<circle cx="1050.8" cy="661.26" r="6.4" fill="#000"/>
<circle cx="1060.22" cy="672.5" r="6.4" fill="#000"/>
<circle cx="1069.65" cy="684.53" r="6.4" fill="#000"/>
<circle cx="1079.08" cy="694.97" r="6.4" fill="#000"/>
<circle cx="1088.5" cy="703.83" r="6.4" fill="#000"/>
<g clip-path="url(#clipdi)">
<polyline points="900,639.96 900.94,639.05 901.88,638.15 902.83,637.25 903.77,636.36 904.71,635.47 905.65,634.59 906.6,633.72 907.54,632.85 908.48,631.98 909.42,631.13 910.37,630.27 911.31,629.43 912.25,628.59 913.2,627.75 914.14,626.93 915.08,626.11 916.02,625.29 916.96,624.48 917.91,623.68 918.85,622.89 919.79,622.1 920.74,621.32 921.68,620.55 922.62,619.78 923.56,619.02 924.5,618.27 925.45,617.53 926.39,616.79 927.33,616.06 928.27,615.34 929.22,614.62 930.16,613.92 931.1,613.22 932.05,612.53 932.99,611.85 933.93,611.18 934.87,610.51 935.81,609.86 936.76,609.21 937.7,608.57 938.64,607.94 939.59,607.32 940.53,606.7 941.47,606.1 942.41,605.51 943.35,604.92 944.3,604.34 945.24,603.78 946.18,603.22 947.12,602.67 948.07,602.13 949.01,601.6 949.95,601.08 950.9,600.57 951.84,600.07 952.78,599.58 953.72,599.1 954.66,598.63 955.61,598.17 956.55,597.72 957.49,597.28 958.44,596.85 959.38,596.43 960.32,596.02 961.26,595.62 962.2,595.23 963.15,594.86 964.09,594.49 965.03,594.13 965.98,593.79 966.92,593.45 967.86,593.13 968.8,592.82 969.75,592.51 970.69,592.22 971.63,591.94 972.57,591.67 973.51,591.42 974.46,591.17 975.4,590.94 976.34,590.71 977.29,590.5 978.23,590.3 979.17,590.11 980.11,589.93 981.05,589.76 982,589.61 982.94,589.46 983.88,589.33 984.83,589.21 985.77,589.1 986.71,589 987.65,588.91 988.6,588.84 989.54,588.77 990.48,588.72 991.42,588.68 992.37,588.65 993.31,588.63 994.25,588.63 995.19,588.63 996.13,588.65 997.08,588.68 998.02,588.72 998.96,588.77 999.9,588.84 1000.85,588.91 1001.79,589 1002.73,589.1 1003.67,589.21 1004.62,589.33 1005.56,589.46 1006.5,589.61 1007.45,589.76 1008.39,589.93 1009.33,590.11 1010.27,590.3 1011.21,590.5 1012.16,590.71 1013.1,590.94 1014.04,591.17 1014.99,591.42 1015.93,591.67 1016.87,591.94 1017.81,592.22 1018.75,592.51 1019.7,592.82 1020.64,593.13 1021.58,593.45 1022.52,593.79 1023.47,594.13 1024.41,594.49 1025.35,594.86 1026.3,595.23 1027.24,595.62 1028.18,596.02 1029.12,596.43 1030.07,596.85 1031.01,597.28 1031.95,597.72 1032.89,598.17 1033.84,598.63 1034.78,599.1 1035.72,599.58 1036.66,600.07 1037.61,600.57 1038.55,601.08 1039.49,601.6 1040.43,602.13 1041.38,602.67 1042.32,603.22 1043.26,603.78 1044.2,604.34 1045.14,604.92 1046.09,605.51 1047.03,606.1 1047.97,606.7 1048.91,607.32 1049.86,607.94 1050.8,608.57 1051.74,609.21 1052.68,609.86 1053.63,610.51 1054.57,611.18 1055.51,611.85 1056.45,612.53 1057.4,613.22 1058.34,613.92 1059.28,614.62 1060.22,615.34 1061.17,616.06 1062.11,616.79 1063.05,617.53 1064,618.27 1064.94,619.02 1065.88,619.78 1066.82,620.55 1067.76,621.32 1068.71,622.1 1069.65,622.89 1070.59,623.68 1071.54,624.48 1072.48,625.29 1073.42,626.11 1074.36,626.93 1075.3,627.75 1076.25,628.59 1077.19,629.43 1078.13,630.27 1079.08,631.13 1080.02,631.98 1080.96,632.85 1081.9,633.72 1082.85,634.59 1083.79,635.47 1084.73,636.36 1085.67,637.25 1086.62,638.15 1087.56,639.05 1088.5,639.96" fill="none" stroke="#00C8C8" stroke-width="4.4" stroke-linejoin="round" stroke-dasharray="7.5,5.5"/>
<polyline points="900,721.17 900.94,720.06 901.88,718.94 902.83,717.82 903.77,716.7 904.71,715.57 905.65,714.44 906.6,713.3 907.54,712.17 908.48,711.02 909.42,709.88 910.37,708.73 911.31,707.57 912.25,706.41 913.2,705.25 914.14,704.09 915.08,702.92 916.02,701.74 916.96,700.56 917.91,699.38 918.85,698.2 919.79,697.01 920.74,695.81 921.68,694.61 922.62,693.41 923.56,692.2 924.5,690.99 925.45,689.78 926.39,688.56 927.33,687.34 928.27,686.11 929.22,684.88 930.16,683.64 931.1,682.4 932.05,681.16 932.99,679.91 933.93,678.65 934.87,677.4 935.81,676.13 936.76,674.87 937.7,673.6 938.64,672.32 939.59,671.04 940.53,669.76 941.47,668.47 942.41,667.18 943.35,665.88 944.3,664.58 945.24,663.27 946.18,661.96 947.12,660.65 948.07,659.33 949.01,658 949.95,656.67 950.9,655.34 951.84,654 952.78,652.66 953.72,651.31 954.66,649.96 955.61,648.6 956.55,647.24 957.49,645.87 958.44,644.5 959.38,643.12 960.32,641.74 961.26,640.35 962.2,638.96 963.15,637.57 964.09,636.17 965.03,634.76 965.98,633.35 966.92,631.94 967.86,630.51 968.8,629.09 969.75,627.66 970.69,626.22 971.63,624.78 972.57,623.34 973.51,621.89 974.46,620.43 975.4,618.97 976.34,617.5 977.29,616.03 978.23,614.55 979.17,613.07 980.11,611.58 981.05,610.09 982,608.59 982.94,607.09 983.88,605.58 984.83,604.07 985.77,602.55 986.71,601.02 987.65,599.49 988.6,597.96 989.54,596.42 990.48,594.87 991.42,593.32 992.37,591.76 993.31,590.2 994.25,588.63" fill="none" stroke="#F00" stroke-width="5.0" stroke-linejoin="round" />
<polyline points="994.25,588.63 995.19,590.2 996.13,591.76 997.08,593.32 998.02,594.87 998.96,596.42 999.9,597.96 1000.85,599.49 1001.79,601.02 1002.73,602.55 1003.67,604.07 1004.62,605.58 1005.56,607.09 1006.5,608.59 1007.45,610.09 1008.39,611.58 1009.33,613.07 1010.27,614.55 1011.21,616.03 1012.16,617.5 1013.1,618.97 1014.04,620.43 1014.99,621.89 1015.93,623.34 1016.87,624.78 1017.81,626.22 1018.75,627.66 1019.7,629.09 1020.64,630.51 1021.58,631.94 1022.52,633.35 1023.47,634.76 1024.41,636.17 1025.35,637.57 1026.3,638.96 1027.24,640.35 1028.18,641.74 1029.12,643.12 1030.07,644.5 1031.01,645.87 1031.95,647.24 1032.89,648.6 1033.84,649.96 1034.78,651.31 1035.72,652.66 1036.66,654 1037.61,655.34 1038.55,656.67 1039.49,658 1040.43,659.33 1041.38,660.65 1042.32,661.96 1043.26,663.27 1044.2,664.58 1045.14,665.88 1046.09,667.18 1047.03,668.47 1047.97,669.76 1048.91,671.04 1049.86,672.32 1050.8,673.6 1051.74,674.87 1052.68,676.13 1053.63,677.4 1054.57,678.65 1055.51,679.91 1056.45,681.16 1057.4,682.4 1058.34,683.64 1059.28,684.88 1060.22,686.11 1061.17,687.34 1062.11,688.56 1063.05,689.78 1064,690.99 1064.94,692.2 1065.88,693.41 1066.82,694.61 1067.76,695.81 1068.71,697.01 1069.65,698.2 1070.59,699.38 1071.54,700.56 1072.48,701.74 1073.42,702.92 1074.36,704.09 1075.3,705.25 1076.25,706.41 1077.19,707.57 1078.13,708.73 1079.08,709.88 1080.02,711.02 1080.96,712.17 1081.9,713.3 1082.85,714.44 1083.79,715.57 1084.73,716.7 1085.67,717.82 1086.62,718.94 1087.56,720.06 1088.5,721.17" fill="none" stroke="#F00" stroke-width="5.0" stroke-linejoin="round" />
</g>
<rect x="900" y="578" width="188.5" height="125" fill="none" stroke="#000" stroke-width="2.4"/>
<line x1="994.25" y1="703" x2="994.25" y2="688.5" stroke="#000" stroke-width="2.4" />
<line x1="994.25" y1="578" x2="994.25" y2="582" stroke="#000" stroke-width="2.4" />
<line x1="900" y1="672.5" x2="916" y2="672.5" stroke="#000" stroke-width="2.4" />
<line x1="1088.5" y1="672.5" x2="1072.5" y2="672.5" stroke="#000" stroke-width="2.4" />
<line x1="900" y1="609.2" x2="916" y2="609.2" stroke="#000" stroke-width="2.4" />
<line x1="1088.5" y1="609.2" x2="1072.5" y2="609.2" stroke="#000" stroke-width="2.4" />
<line x1="900" y1="640.85" x2="908" y2="640.85" stroke="#000" stroke-width="2.4" />
<line x1="1088.5" y1="640.85" x2="1080.5" y2="640.85" stroke="#000" stroke-width="2.4" />
<text x="0" y="0" font-size="35.5" fill="#000" text-anchor="end" style=""  transform="translate(890.5,621.2) scale(1.0,1.0377)">4.4</text>
<text x="0" y="0" font-size="35.5" fill="#000" text-anchor="end" style=""  transform="translate(890.5,684.5) scale(1.0,1.0377)">4.0</text>
<text x="0" y="0" font-size="35.5" fill="#000" text-anchor="middle" style=""  transform="translate(900,745) scale(1.0,1.0377)">80</text>
<text x="0" y="0" font-size="35.5" fill="#000" text-anchor="middle" style=""  transform="translate(994.25,745) scale(1.0,1.0377)">90</text>
<text x="0" y="0" font-size="35.5" fill="#000" text-anchor="middle" style=""  transform="translate(1088.5,745) scale(1.0,1.0377)">100</text>
<polygon points="865.1,832.4 899.6,853.6 899.6,860.4 865.1,838.9" fill="#6E6E6E" stroke="#000" stroke-width="1"/>
<polygon points="899.6,853.6 978.6,842.9 978.6,849 899.6,860.4" fill="#A0A0A0" stroke="#000" stroke-width="1"/>
<polygon points="865.1,832.4 949,822.9 978.6,842.9 899.6,853.6" fill="#AAAAAA" stroke="#000" stroke-width="1"/>
<line x1="947.9" y1="831.2" x2="900.46" y2="838.14" stroke="#000" stroke-width="5.2" />
<polygon points="901.5,831.42 903.38,844.29 887.1,840.1" fill="#000"/>
<line x1="948.1" y1="760.4" x2="948.1" y2="822.9" stroke="#000" stroke-width="3" stroke-dasharray="3,2.6"/>
<path d="M925.8,808.5 A11.5,11.5 0 0 1 949,805" fill="none" stroke="#000" stroke-width="1.8"/>
<line x1="947.9" y1="830" x2="902.89" y2="783.12" stroke="#F00" stroke-width="4.8" />
<polygon points="909.68,779.37 898.86,789.76 892.5,772.3" fill="#F00"/>
<text x="0" y="0" font-size="30.5" fill="#F00" style="font-style:italic;font-weight:bold;"  transform="translate(865,786.5) scale(1.0,1.0377)">H</text>
<text x="0" y="0" font-size="31" fill="#000" style="font-style:italic;"  transform="translate(920.5,786) scale(1.08,1.0377)">θ</text>
<text x="0" y="0" font-size="30" fill="#000" style="font-style:italic;font-weight:bold;"  transform="translate(840,819.9) scale(1.0,1.0377)">I</text>
<line x1="862" y1="797.3" x2="862" y2="826.4" stroke="#000" stroke-width="2.2" />
<line x1="870" y1="797.3" x2="870" y2="826.4" stroke="#000" stroke-width="2.2" />
<text x="0" y="0" font-size="30" fill="#000" style="font-style:italic;font-weight:bold;"  transform="translate(883.5,819.9) scale(1.0,1.0377)">a</text>
</svg></div></body></html>
